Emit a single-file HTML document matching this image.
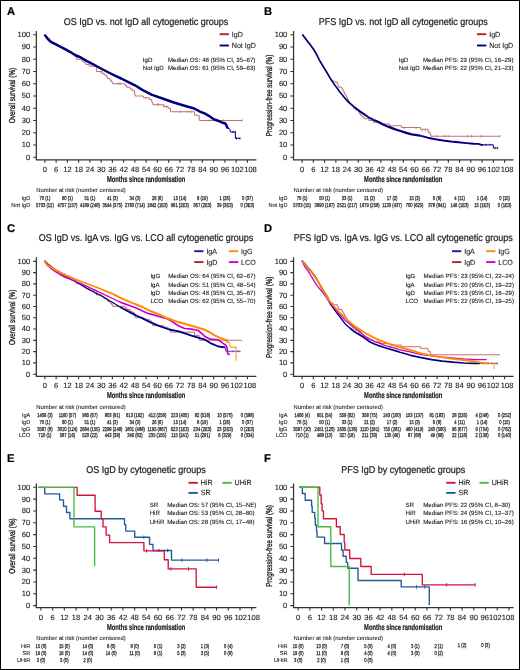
<!DOCTYPE html><html><head><meta charset="utf-8"><style>html,body{margin:0;padding:0;background:#fff;}body{width:520px;height:670px;overflow:hidden;position:relative;} .bd{position:absolute;left:0;top:0;width:520px;height:670px;box-sizing:border-box;border:1.3px solid #000;pointer-events:none}</style></head><body><svg width="520" height="670" viewBox="0 0 520 670" style="display:block;will-change:transform;text-rendering:geometricPrecision;font-family:'Liberation Sans',sans-serif">
<rect x="0" y="0" width="520" height="670" fill="#fff"/>
<path d="M36.35,30.9 V160.4 M35.75,159.8 H256.35" stroke="#333" stroke-width="1.25" fill="none"/>
<path d="M33.15,34.75 H36.35 M33.15,47 H36.35 M33.15,59.25 H36.35 M33.15,71.5 H36.35 M33.15,83.75 H36.35 M33.15,96 H36.35 M33.15,108.25 H36.35 M33.15,120.5 H36.35 M33.15,132.75 H36.35 M33.15,145 H36.35 M33.15,157.25 H36.35 M44.9,159.8 V162.7 M56.15,159.8 V162.7 M67.4,159.8 V162.7 M78.65,159.8 V162.7 M89.9,159.8 V162.7 M101.15,159.8 V162.7 M112.4,159.8 V162.7 M123.65,159.8 V162.7 M134.9,159.8 V162.7 M146.15,159.8 V162.7 M157.4,159.8 V162.7 M168.65,159.8 V162.7 M179.9,159.8 V162.7 M191.15,159.8 V162.7 M202.4,159.8 V162.7 M213.65,159.8 V162.7 M224.9,159.8 V162.7 M236.15,159.8 V162.7 M247.4,159.8 V162.7 " stroke="#333" stroke-width="1.1" fill="none"/>
<text x="30.15" y="37.15" font-size="7.6" text-anchor="end" fill="#1a1a1a" stroke="#1a1a1a" stroke-width="0.12">100</text>
<text x="30.15" y="49.4" font-size="7.6" text-anchor="end" fill="#1a1a1a" stroke="#1a1a1a" stroke-width="0.12">90</text>
<text x="30.15" y="61.65" font-size="7.6" text-anchor="end" fill="#1a1a1a" stroke="#1a1a1a" stroke-width="0.12">80</text>
<text x="30.15" y="73.9" font-size="7.6" text-anchor="end" fill="#1a1a1a" stroke="#1a1a1a" stroke-width="0.12">70</text>
<text x="30.15" y="86.15" font-size="7.6" text-anchor="end" fill="#1a1a1a" stroke="#1a1a1a" stroke-width="0.12">60</text>
<text x="30.15" y="98.4" font-size="7.6" text-anchor="end" fill="#1a1a1a" stroke="#1a1a1a" stroke-width="0.12">50</text>
<text x="30.15" y="110.65" font-size="7.6" text-anchor="end" fill="#1a1a1a" stroke="#1a1a1a" stroke-width="0.12">40</text>
<text x="30.15" y="122.9" font-size="7.6" text-anchor="end" fill="#1a1a1a" stroke="#1a1a1a" stroke-width="0.12">30</text>
<text x="30.15" y="135.15" font-size="7.6" text-anchor="end" fill="#1a1a1a" stroke="#1a1a1a" stroke-width="0.12">20</text>
<text x="30.15" y="147.4" font-size="7.6" text-anchor="end" fill="#1a1a1a" stroke="#1a1a1a" stroke-width="0.12">10</text>
<text x="30.15" y="159.65" font-size="7.6" text-anchor="end" fill="#1a1a1a" stroke="#1a1a1a" stroke-width="0.12">0</text>
<text x="44.9" y="171.8" font-size="7.6" text-anchor="middle" fill="#1a1a1a" stroke="#1a1a1a" stroke-width="0.12">0</text>
<text x="56.15" y="171.8" font-size="7.6" text-anchor="middle" fill="#1a1a1a" stroke="#1a1a1a" stroke-width="0.12">6</text>
<text x="67.4" y="171.8" font-size="7.6" text-anchor="middle" fill="#1a1a1a" stroke="#1a1a1a" stroke-width="0.12">12</text>
<text x="78.65" y="171.8" font-size="7.6" text-anchor="middle" fill="#1a1a1a" stroke="#1a1a1a" stroke-width="0.12">18</text>
<text x="89.9" y="171.8" font-size="7.6" text-anchor="middle" fill="#1a1a1a" stroke="#1a1a1a" stroke-width="0.12">24</text>
<text x="101.15" y="171.8" font-size="7.6" text-anchor="middle" fill="#1a1a1a" stroke="#1a1a1a" stroke-width="0.12">30</text>
<text x="112.4" y="171.8" font-size="7.6" text-anchor="middle" fill="#1a1a1a" stroke="#1a1a1a" stroke-width="0.12">36</text>
<text x="123.65" y="171.8" font-size="7.6" text-anchor="middle" fill="#1a1a1a" stroke="#1a1a1a" stroke-width="0.12">42</text>
<text x="134.9" y="171.8" font-size="7.6" text-anchor="middle" fill="#1a1a1a" stroke="#1a1a1a" stroke-width="0.12">48</text>
<text x="146.15" y="171.8" font-size="7.6" text-anchor="middle" fill="#1a1a1a" stroke="#1a1a1a" stroke-width="0.12">54</text>
<text x="157.4" y="171.8" font-size="7.6" text-anchor="middle" fill="#1a1a1a" stroke="#1a1a1a" stroke-width="0.12">60</text>
<text x="168.65" y="171.8" font-size="7.6" text-anchor="middle" fill="#1a1a1a" stroke="#1a1a1a" stroke-width="0.12">66</text>
<text x="179.9" y="171.8" font-size="7.6" text-anchor="middle" fill="#1a1a1a" stroke="#1a1a1a" stroke-width="0.12">72</text>
<text x="191.15" y="171.8" font-size="7.6" text-anchor="middle" fill="#1a1a1a" stroke="#1a1a1a" stroke-width="0.12">78</text>
<text x="202.4" y="171.8" font-size="7.6" text-anchor="middle" fill="#1a1a1a" stroke="#1a1a1a" stroke-width="0.12">84</text>
<text x="213.65" y="171.8" font-size="7.6" text-anchor="middle" fill="#1a1a1a" stroke="#1a1a1a" stroke-width="0.12">90</text>
<text x="224.9" y="171.8" font-size="7.6" text-anchor="middle" fill="#1a1a1a" stroke="#1a1a1a" stroke-width="0.12">96</text>
<text x="237.3" y="171.8" font-size="7.6" text-anchor="middle" fill="#1a1a1a" stroke="#1a1a1a" stroke-width="0.12">102</text>
<text x="250.5" y="171.8" font-size="7.6" text-anchor="middle" fill="#1a1a1a" stroke="#1a1a1a" stroke-width="0.12">108</text>
<text x="6.9" y="14.8" font-size="11.2" font-weight="bold" fill="#000" stroke="#000" stroke-width="0.2">A</text>
<text transform="translate(146.05,25) scale(1,1.1)" font-size="9" text-anchor="middle" fill="#1a1a1a" stroke="#1a1a1a" stroke-width="0.2">OS IgD vs. not IgD all cytogenetic groups</text>
<text transform="translate(15.25,95.5) rotate(-90)" x="0" y="0" font-size="8.6" text-anchor="middle" textLength="55.4" lengthAdjust="spacingAndGlyphs" fill="#1a1a1a" stroke="#1a1a1a" stroke-width="0.3">Overall survival (%)</text>
<text x="106.9" y="181.7" font-size="8.4" font-weight="bold" textLength="78.3" lengthAdjust="spacingAndGlyphs" fill="#1a1a1a" stroke="#1a1a1a" stroke-width="0.22">Months since randomisation</text>
<text x="36.25" y="192" font-size="5.9" textLength="89.5" lengthAdjust="spacingAndGlyphs" fill="#1a1a1a" stroke="#1a1a1a" stroke-width="0.08">Number at risk (number censored)</text>
<path d="M219.6,34.2 H228.9" stroke="#b22222" stroke-width="1.9"/>
<text x="231.8" y="36.8" font-size="7.1" fill="#1a1a1a" stroke="#1a1a1a" stroke-width="0.1" transform="translate(0,-1.84) scale(1,1.05)">IgD</text>
<path d="M219.6,45.5 H228.9" stroke="#000080" stroke-width="1.9"/>
<text x="231.8" y="48.1" font-size="7.1" fill="#1a1a1a" stroke="#1a1a1a" stroke-width="0.1" transform="translate(0,-2.41) scale(1,1.05)">Not IgD</text>
<text x="142.8" y="62.3" font-size="6.15" fill="#1a1a1a" stroke="#1a1a1a" stroke-width="0.1">IgD</text>
<text x="168" y="62.3" font-size="6.15" fill="#1a1a1a" stroke="#1a1a1a" stroke-width="0.1">Median OS: 48 (95% CI, 35–67)</text>
<text x="142.8" y="70.4" font-size="6.15" fill="#1a1a1a" stroke="#1a1a1a" stroke-width="0.1">Not IgD</text>
<text x="168" y="70.4" font-size="6.15" fill="#1a1a1a" stroke="#1a1a1a" stroke-width="0.1">Median OS: 61 (95% CI, 59–63)</text>
<path d="M44.6,34.75 L46.1,34.75 L46.1,36.5 L47.6,36.5 L47.6,38.25 L49.35,38.25 L49.35,40 L51.1,40 L51.1,41.75 L53.35,41.75 L53.35,43.5 L56.1,43.5 L56.1,45.25 L59.1,45.25 L59.1,47 L62.35,47 L62.35,48.75 L65.6,48.75 L65.6,50.5 L68.85,50.5 L68.85,52.25 L72.1,52.25 L72.1,54 L74.85,54 L74.85,55.75 L76.35,55.75 L76.35,59.25 L81.85,59.25 L81.85,61 L84.1,61 L84.1,62.75 L85.85,62.75 L85.85,64.5 L89.35,64.5 L89.35,66.25 L96.35,66.25 L96.35,71.5 L102.1,71.5 L102.1,73.25 L104.1,73.25 L104.1,75 L106.6,75 L106.6,76.75 L107.6,76.75 L107.6,78.5 L109.85,78.5 L109.85,80.25 L111.6,80.25 L111.6,82 L112.6,82 L112.6,83.75 L125.1,83.75 L125.1,85.5 L126.6,85.5 L126.6,87.25 L130.1,87.25 L130.1,89 L132.35,89 L132.35,90.75 L134.6,90.75 L134.6,94.25 L135.1,94.25 L135.1,96 L143.35,96 L143.35,97.75 L149.35,97.75 L149.35,99.5 L151.6,99.5 L151.6,101.25 L152.1,101.25 L152.1,103 L152.85,103 L152.85,104.75 L163.85,104.75 L163.85,106.5 L168.1,106.5 L168.1,108.25 L170.35,108.25 L170.35,110 L170.6,110 L170.6,111.75 L194.6,111.75 L194.6,115.25 L199.1,115.25 L199.1,118.75 L199.35,118.75 L199.35,120.5 L242.2,120.5" fill="none" stroke="#c06060" stroke-width="0.9" stroke-linejoin="round"/>
<path d="M145.8,96.9 V99.3 M157.3,103.2 V105.6 M158.5,103.2 V105.6 M163.7,105 V107.4 M166.5,105.5 V107.9 M180.4,110.5 V112.9 M187.3,110.5 V112.9 M190.8,110.5 V112.9 M209.3,119.2 V121.6 M223.6,119.2 V121.6 M242.2,119.2 V121.6 M118,82.3 V84.7 M120,82.3 V84.7 M101,71.3 V73.7 " stroke="#c06060" stroke-width="0.7" fill="none"/>
<path d="M44.6,34.6 L46.2,36.9 L47.7,38.8 L50,41.2 L52.3,42.7 L55.4,44.2 L59.2,46.2 L63.1,48.1 L66.9,50.2 L70.8,52.3 L75,55 L80.8,57.5 L86.5,60.8 L92.3,63.8 L98.1,67 L103.8,70 L109.6,73 L115.4,75.9 L121.2,78.5 L126.9,81.3 L135,85.3 L142.3,89.9 L151.5,94.6 L163.1,98.7 L174.6,102.7 L186.2,106.2 L194.2,108.5 L200,111.6 L205,113.7 L209.3,116.1 L213.7,119.3 L218,120.7 L222.3,122.7 L224.9,123.3 L226.2,124.9 L227.1,127.1 L227.9,128.5" fill="none" stroke="#000080" stroke-width="2.5" stroke-linejoin="round"/>
<path d="M227.6,128.5 L229.2,128.5 L230.1,130.1 L230.5,132 L235.3,132 L235.4,138.3 L240,138.3" fill="none" stroke="#000080" stroke-width="1.0" stroke-linejoin="round"/>
<path d="M233,130.8 V133.2 M235.3,130.8 V133.2 M236.5,137.1 V139.5 M240,137.1 V139.5 " stroke="#000080" stroke-width="0.8" fill="none"/>
<text x="30.25" y="200.4" font-size="5.6" text-anchor="end" fill="#1a1a1a" stroke="#1a1a1a" stroke-width="0.08">IgD</text>
<text transform="translate(44.9,200.4) scale(0.74,1)" font-size="5.6" text-anchor="middle" fill="#1a1a1a" stroke="#1a1a1a" stroke-width="0.25">70 (1)</text>
<text transform="translate(67.4,200.4) scale(0.74,1)" font-size="5.6" text-anchor="middle" fill="#1a1a1a" stroke="#1a1a1a" stroke-width="0.25">60 (1)</text>
<text transform="translate(89.9,200.4) scale(0.74,1)" font-size="5.6" text-anchor="middle" fill="#1a1a1a" stroke="#1a1a1a" stroke-width="0.25">51 (1)</text>
<text transform="translate(112.4,200.4) scale(0.74,1)" font-size="5.6" text-anchor="middle" fill="#1a1a1a" stroke="#1a1a1a" stroke-width="0.25">41 (3)</text>
<text transform="translate(134.9,200.4) scale(0.74,1)" font-size="5.6" text-anchor="middle" fill="#1a1a1a" stroke="#1a1a1a" stroke-width="0.25">34 (3)</text>
<text transform="translate(157.4,200.4) scale(0.74,1)" font-size="5.6" text-anchor="middle" fill="#1a1a1a" stroke="#1a1a1a" stroke-width="0.25">26 (6)</text>
<text transform="translate(179.9,200.4) scale(0.74,1)" font-size="5.6" text-anchor="middle" fill="#1a1a1a" stroke="#1a1a1a" stroke-width="0.25">15 (14)</text>
<text transform="translate(202.4,200.4) scale(0.74,1)" font-size="5.6" text-anchor="middle" fill="#1a1a1a" stroke="#1a1a1a" stroke-width="0.25">8 (19)</text>
<text transform="translate(224.9,200.4) scale(0.74,1)" font-size="5.6" text-anchor="middle" fill="#1a1a1a" stroke="#1a1a1a" stroke-width="0.25">1 (26)</text>
<text transform="translate(247.4,200.4) scale(0.74,1)" font-size="5.6" text-anchor="middle" fill="#1a1a1a" stroke="#1a1a1a" stroke-width="0.25">0 (37)</text>
<text x="30.25" y="207.2" font-size="5.6" text-anchor="end" fill="#1a1a1a" stroke="#1a1a1a" stroke-width="0.08">Not IgD</text>
<text transform="translate(44.9,207.2) scale(0.74,1)" font-size="5.6" text-anchor="middle" fill="#1a1a1a" stroke="#1a1a1a" stroke-width="0.25">5703 (12)</text>
<text transform="translate(67.4,207.2) scale(0.74,1)" font-size="5.6" text-anchor="middle" fill="#1a1a1a" stroke="#1a1a1a" stroke-width="0.25">4757 (157)</text>
<text transform="translate(89.9,207.2) scale(0.74,1)" font-size="5.6" text-anchor="middle" fill="#1a1a1a" stroke="#1a1a1a" stroke-width="0.25">4189 (248)</text>
<text transform="translate(112.4,207.2) scale(0.74,1)" font-size="5.6" text-anchor="middle" fill="#1a1a1a" stroke="#1a1a1a" stroke-width="0.25">3544 (375)</text>
<text transform="translate(134.9,207.2) scale(0.74,1)" font-size="5.6" text-anchor="middle" fill="#1a1a1a" stroke="#1a1a1a" stroke-width="0.25">2760 (714)</text>
<text transform="translate(157.4,207.2) scale(0.74,1)" font-size="5.6" text-anchor="middle" fill="#1a1a1a" stroke="#1a1a1a" stroke-width="0.25">1842 (1E3)</text>
<text transform="translate(179.9,207.2) scale(0.74,1)" font-size="5.6" text-anchor="middle" fill="#1a1a1a" stroke="#1a1a1a" stroke-width="0.25">961 (2E3)</text>
<text transform="translate(202.4,207.2) scale(0.74,1)" font-size="5.6" text-anchor="middle" fill="#1a1a1a" stroke="#1a1a1a" stroke-width="0.25">367 (2E3)</text>
<text transform="translate(224.9,207.2) scale(0.74,1)" font-size="5.6" text-anchor="middle" fill="#1a1a1a" stroke="#1a1a1a" stroke-width="0.25">39 (3E3)</text>
<text transform="translate(247.4,207.2) scale(0.74,1)" font-size="5.6" text-anchor="middle" fill="#1a1a1a" stroke="#1a1a1a" stroke-width="0.25">0 (3E3)</text>
<path d="M293.55,30.9 V160.4 M292.95,159.8 H513.55" stroke="#333" stroke-width="1.25" fill="none"/>
<path d="M290.35,34.75 H293.55 M290.35,47 H293.55 M290.35,59.25 H293.55 M290.35,71.5 H293.55 M290.35,83.75 H293.55 M290.35,96 H293.55 M290.35,108.25 H293.55 M290.35,120.5 H293.55 M290.35,132.75 H293.55 M290.35,145 H293.55 M290.35,157.25 H293.55 M302.1,159.8 V162.7 M313.35,159.8 V162.7 M324.6,159.8 V162.7 M335.85,159.8 V162.7 M347.1,159.8 V162.7 M358.35,159.8 V162.7 M369.6,159.8 V162.7 M380.85,159.8 V162.7 M392.1,159.8 V162.7 M403.35,159.8 V162.7 M414.6,159.8 V162.7 M425.85,159.8 V162.7 M437.1,159.8 V162.7 M448.35,159.8 V162.7 M459.6,159.8 V162.7 M470.85,159.8 V162.7 M482.1,159.8 V162.7 M493.35,159.8 V162.7 M504.6,159.8 V162.7 " stroke="#333" stroke-width="1.1" fill="none"/>
<text x="287.35" y="37.15" font-size="7.6" text-anchor="end" fill="#1a1a1a" stroke="#1a1a1a" stroke-width="0.12">100</text>
<text x="287.35" y="49.4" font-size="7.6" text-anchor="end" fill="#1a1a1a" stroke="#1a1a1a" stroke-width="0.12">90</text>
<text x="287.35" y="61.65" font-size="7.6" text-anchor="end" fill="#1a1a1a" stroke="#1a1a1a" stroke-width="0.12">80</text>
<text x="287.35" y="73.9" font-size="7.6" text-anchor="end" fill="#1a1a1a" stroke="#1a1a1a" stroke-width="0.12">70</text>
<text x="287.35" y="86.15" font-size="7.6" text-anchor="end" fill="#1a1a1a" stroke="#1a1a1a" stroke-width="0.12">60</text>
<text x="287.35" y="98.4" font-size="7.6" text-anchor="end" fill="#1a1a1a" stroke="#1a1a1a" stroke-width="0.12">50</text>
<text x="287.35" y="110.65" font-size="7.6" text-anchor="end" fill="#1a1a1a" stroke="#1a1a1a" stroke-width="0.12">40</text>
<text x="287.35" y="122.9" font-size="7.6" text-anchor="end" fill="#1a1a1a" stroke="#1a1a1a" stroke-width="0.12">30</text>
<text x="287.35" y="135.15" font-size="7.6" text-anchor="end" fill="#1a1a1a" stroke="#1a1a1a" stroke-width="0.12">20</text>
<text x="287.35" y="147.4" font-size="7.6" text-anchor="end" fill="#1a1a1a" stroke="#1a1a1a" stroke-width="0.12">10</text>
<text x="287.35" y="159.65" font-size="7.6" text-anchor="end" fill="#1a1a1a" stroke="#1a1a1a" stroke-width="0.12">0</text>
<text x="302.1" y="171.8" font-size="7.6" text-anchor="middle" fill="#1a1a1a" stroke="#1a1a1a" stroke-width="0.12">0</text>
<text x="313.35" y="171.8" font-size="7.6" text-anchor="middle" fill="#1a1a1a" stroke="#1a1a1a" stroke-width="0.12">6</text>
<text x="324.6" y="171.8" font-size="7.6" text-anchor="middle" fill="#1a1a1a" stroke="#1a1a1a" stroke-width="0.12">12</text>
<text x="335.85" y="171.8" font-size="7.6" text-anchor="middle" fill="#1a1a1a" stroke="#1a1a1a" stroke-width="0.12">18</text>
<text x="347.1" y="171.8" font-size="7.6" text-anchor="middle" fill="#1a1a1a" stroke="#1a1a1a" stroke-width="0.12">24</text>
<text x="358.35" y="171.8" font-size="7.6" text-anchor="middle" fill="#1a1a1a" stroke="#1a1a1a" stroke-width="0.12">30</text>
<text x="369.6" y="171.8" font-size="7.6" text-anchor="middle" fill="#1a1a1a" stroke="#1a1a1a" stroke-width="0.12">36</text>
<text x="380.85" y="171.8" font-size="7.6" text-anchor="middle" fill="#1a1a1a" stroke="#1a1a1a" stroke-width="0.12">42</text>
<text x="392.1" y="171.8" font-size="7.6" text-anchor="middle" fill="#1a1a1a" stroke="#1a1a1a" stroke-width="0.12">48</text>
<text x="403.35" y="171.8" font-size="7.6" text-anchor="middle" fill="#1a1a1a" stroke="#1a1a1a" stroke-width="0.12">54</text>
<text x="414.6" y="171.8" font-size="7.6" text-anchor="middle" fill="#1a1a1a" stroke="#1a1a1a" stroke-width="0.12">60</text>
<text x="425.85" y="171.8" font-size="7.6" text-anchor="middle" fill="#1a1a1a" stroke="#1a1a1a" stroke-width="0.12">66</text>
<text x="437.1" y="171.8" font-size="7.6" text-anchor="middle" fill="#1a1a1a" stroke="#1a1a1a" stroke-width="0.12">72</text>
<text x="448.35" y="171.8" font-size="7.6" text-anchor="middle" fill="#1a1a1a" stroke="#1a1a1a" stroke-width="0.12">78</text>
<text x="459.6" y="171.8" font-size="7.6" text-anchor="middle" fill="#1a1a1a" stroke="#1a1a1a" stroke-width="0.12">84</text>
<text x="470.85" y="171.8" font-size="7.6" text-anchor="middle" fill="#1a1a1a" stroke="#1a1a1a" stroke-width="0.12">90</text>
<text x="482.1" y="171.8" font-size="7.6" text-anchor="middle" fill="#1a1a1a" stroke="#1a1a1a" stroke-width="0.12">96</text>
<text x="493.6" y="171.8" font-size="7.6" text-anchor="middle" fill="#1a1a1a" stroke="#1a1a1a" stroke-width="0.12">102</text>
<text x="507.1" y="171.8" font-size="7.6" text-anchor="middle" fill="#1a1a1a" stroke="#1a1a1a" stroke-width="0.12">108</text>
<text x="264.1" y="14.8" font-size="11.2" font-weight="bold" fill="#000" stroke="#000" stroke-width="0.2">B</text>
<text transform="translate(403.25,25) scale(1,1.1)" font-size="9" text-anchor="middle" fill="#1a1a1a" stroke="#1a1a1a" stroke-width="0.2">PFS IgD vs. not IgD all cytogenetic groups</text>
<text transform="translate(272.45,95.5) rotate(-90)" x="0" y="0" font-size="8.6" text-anchor="middle" textLength="81.5" lengthAdjust="spacingAndGlyphs" fill="#1a1a1a" stroke="#1a1a1a" stroke-width="0.3">Progression-free survival (%)</text>
<text x="364.1" y="181.7" font-size="8.4" font-weight="bold" textLength="78.3" lengthAdjust="spacingAndGlyphs" fill="#1a1a1a" stroke="#1a1a1a" stroke-width="0.22">Months since randomisation</text>
<text x="293.45" y="192" font-size="5.9" textLength="89.5" lengthAdjust="spacingAndGlyphs" fill="#1a1a1a" stroke="#1a1a1a" stroke-width="0.08">Number at risk (number censored)</text>
<path d="M477,34.2 H486.3" stroke="#b22222" stroke-width="1.9"/>
<text x="489.2" y="36.8" font-size="7.1" fill="#1a1a1a" stroke="#1a1a1a" stroke-width="0.1" transform="translate(0,-1.84) scale(1,1.05)">IgD</text>
<path d="M477,45.5 H486.3" stroke="#000080" stroke-width="1.9"/>
<text x="489.2" y="48.1" font-size="7.1" fill="#1a1a1a" stroke="#1a1a1a" stroke-width="0.1" transform="translate(0,-2.41) scale(1,1.05)">Not IgD</text>
<text x="398.75" y="62.3" font-size="6.15" fill="#1a1a1a" stroke="#1a1a1a" stroke-width="0.1">IgD</text>
<text x="423" y="62.3" font-size="6.15" fill="#1a1a1a" stroke="#1a1a1a" stroke-width="0.1">Median PFS: 23 (95% CI, 16–29)</text>
<text x="398.75" y="70.4" font-size="6.15" fill="#1a1a1a" stroke="#1a1a1a" stroke-width="0.1">Not IgD</text>
<text x="423" y="70.4" font-size="6.15" fill="#1a1a1a" stroke="#1a1a1a" stroke-width="0.1">Median PFS: 22 (95% CI, 21–23)</text>
<path d="M302.2,34.75 L303.45,34.75 L303.45,36.5 L304.95,36.5 L304.95,38.25 L306.2,38.25 L306.2,40 L307.7,40 L307.7,41.75 L308.95,41.75 L308.95,43.5 L310.45,43.5 L310.45,45.25 L311.7,45.25 L311.7,47 L312.95,47 L312.95,48.75 L314.2,48.75 L314.2,50.5 L315.2,50.5 L315.2,52.25 L316.2,52.25 L316.2,54 L317.2,54 L317.2,55.75 L317.95,55.75 L317.95,57.5 L318.95,57.5 L318.95,59.25 L319.7,59.25 L319.7,61 L320.95,61 L320.95,62.75 L321.95,62.75 L321.95,64.5 L322.95,64.5 L322.95,66.25 L323.95,66.25 L323.95,68 L324.95,68 L324.95,69.75 L326.2,69.75 L326.2,71.5 L327.2,71.5 L327.2,73.25 L328.2,73.25 L328.2,75 L328.95,75 L328.95,76.75 L329.7,76.75 L329.7,78.5 L330.95,78.5 L330.95,80.25 L333.2,80.25 L333.2,82 L337.2,82 L337.2,83.75 L337.95,83.75 L337.95,85.5 L338.7,85.5 L338.7,87.25 L341.95,87.25 L341.95,89 L342.95,89 L342.95,90.75 L343.95,90.75 L343.95,92.5 L344.7,92.5 L344.7,94.25 L345.7,94.25 L345.7,96 L346.7,96 L346.7,97.75 L347.45,97.75 L347.45,99.5 L348.45,99.5 L348.45,101.25 L349.7,101.25 L349.7,103 L350.95,103 L350.95,104.75 L352.2,104.75 L352.2,106.5 L353.45,106.5 L353.45,108.25 L355.45,108.25 L355.45,110 L358.45,110 L358.45,111.75 L359.2,111.75 L359.2,113.5 L360.45,113.5 L360.45,115.25 L362.2,115.25 L362.2,117 L364.2,117 L364.2,118.75 L368.95,118.75 L368.95,120.5 L373.45,120.5 L373.45,122.25 L380.7,122.25 L380.7,124 L389.7,124 L389.7,125.75 L401.45,125.75 L401.45,127.5 L420.45,127.5 L420.45,129.25 L427.95,129.25 L427.95,131 L428.45,131 L428.45,132.75 L430.45,132.75 L430.45,134.5 L430.95,134.5 L430.95,136.25 L500,136.25" fill="none" stroke="#c06060" stroke-width="0.9" stroke-linejoin="round"/>
<path d="M404,126.7 V129.1 M416,126.7 V129.1 M422.3,129.3 V131.7 M425.4,129.3 V131.7 M436.9,135 V137.4 M444.6,135 V137.4 M448.2,135 V137.4 M467.7,135 V137.4 M471.5,135 V137.4 M481.2,135 V137.4 M500,135 V137.4 " stroke="#c06060" stroke-width="0.7" fill="none"/>
<path d="M302.3,34.6 L305.7,39.1 L309.5,43.9 L313.4,49.2 L316.3,54 L319.2,59.8 L322,64.6 L324.9,69.4 L327.8,74.2 L330.7,79 L333.6,83.4 L337.4,88.5 L339.6,91.8 L344.4,97.6 L349.2,102.9 L354,106.7" fill="none" stroke="#000080" stroke-width="1.6" stroke-linejoin="round"/>
<path d="M354,106.7 L358.8,110.6 L363.7,113.9 L368.5,117.3 L373.3,119.7" fill="none" stroke="#000080" stroke-width="1.9" stroke-linejoin="round"/>
<path d="M373.3,119.7 L377.3,121.5 L383.1,124.4 L388.8,126.9 L394.6,129.1 L400.4,131 L406.2,132.9 L411.9,134.4 L420,135.6" fill="none" stroke="#000080" stroke-width="2.2" stroke-linejoin="round"/>
<path d="M420,135.6 L427.7,137.7 L435.4,139.2 L443.1,140.5 L450.8,141.5 L458.5,142.3 L466.2,143.1 L473.8,143.8 L478.5,143.9 L481.5,144.9 L483.6,144.9" fill="none" stroke="#000080" stroke-width="1.9" stroke-linejoin="round"/>
<path d="M483.6,144.8 L493.3,144.8 L493.3,148 L497.7,148" fill="none" stroke="#000080" stroke-width="1.0" stroke-linejoin="round"/>
<path d="M486,143.6 V146 M490,143.6 V146 M495,146.8 V149.2 M497.7,146.8 V149.2 " stroke="#000080" stroke-width="0.7" fill="none"/>
<text x="287.45" y="200.4" font-size="5.6" text-anchor="end" fill="#1a1a1a" stroke="#1a1a1a" stroke-width="0.08">IgD</text>
<text transform="translate(302.1,200.4) scale(0.74,1)" font-size="5.6" text-anchor="middle" fill="#1a1a1a" stroke="#1a1a1a" stroke-width="0.25">70 (1)</text>
<text transform="translate(324.6,200.4) scale(0.74,1)" font-size="5.6" text-anchor="middle" fill="#1a1a1a" stroke="#1a1a1a" stroke-width="0.25">50 (1)</text>
<text transform="translate(347.1,200.4) scale(0.74,1)" font-size="5.6" text-anchor="middle" fill="#1a1a1a" stroke="#1a1a1a" stroke-width="0.25">33 (1)</text>
<text transform="translate(369.6,200.4) scale(0.74,1)" font-size="5.6" text-anchor="middle" fill="#1a1a1a" stroke="#1a1a1a" stroke-width="0.25">21 (2)</text>
<text transform="translate(392.1,200.4) scale(0.74,1)" font-size="5.6" text-anchor="middle" fill="#1a1a1a" stroke="#1a1a1a" stroke-width="0.25">17 (2)</text>
<text transform="translate(414.6,200.4) scale(0.74,1)" font-size="5.6" text-anchor="middle" fill="#1a1a1a" stroke="#1a1a1a" stroke-width="0.25">15 (3)</text>
<text transform="translate(437.1,200.4) scale(0.74,1)" font-size="5.6" text-anchor="middle" fill="#1a1a1a" stroke="#1a1a1a" stroke-width="0.25">6 (8)</text>
<text transform="translate(459.6,200.4) scale(0.74,1)" font-size="5.6" text-anchor="middle" fill="#1a1a1a" stroke="#1a1a1a" stroke-width="0.25">4 (11)</text>
<text transform="translate(482.1,200.4) scale(0.74,1)" font-size="5.6" text-anchor="middle" fill="#1a1a1a" stroke="#1a1a1a" stroke-width="0.25">1 (14)</text>
<text transform="translate(504.6,200.4) scale(0.74,1)" font-size="5.6" text-anchor="middle" fill="#1a1a1a" stroke="#1a1a1a" stroke-width="0.25">0 (15)</text>
<text x="287.45" y="207.2" font-size="5.6" text-anchor="end" fill="#1a1a1a" stroke="#1a1a1a" stroke-width="0.08">Not IgD</text>
<text transform="translate(302.1,207.2) scale(0.74,1)" font-size="5.6" text-anchor="middle" fill="#1a1a1a" stroke="#1a1a1a" stroke-width="0.25">5703 (15)</text>
<text transform="translate(324.6,207.2) scale(0.74,1)" font-size="5.6" text-anchor="middle" fill="#1a1a1a" stroke="#1a1a1a" stroke-width="0.25">3890 (187)</text>
<text transform="translate(347.1,207.2) scale(0.74,1)" font-size="5.6" text-anchor="middle" fill="#1a1a1a" stroke="#1a1a1a" stroke-width="0.25">2521 (217)</text>
<text transform="translate(369.6,207.2) scale(0.74,1)" font-size="5.6" text-anchor="middle" fill="#1a1a1a" stroke="#1a1a1a" stroke-width="0.25">1679 (258)</text>
<text transform="translate(392.1,207.2) scale(0.74,1)" font-size="5.6" text-anchor="middle" fill="#1a1a1a" stroke="#1a1a1a" stroke-width="0.25">1133 (437)</text>
<text transform="translate(414.6,207.2) scale(0.74,1)" font-size="5.6" text-anchor="middle" fill="#1a1a1a" stroke="#1a1a1a" stroke-width="0.25">700 (625)</text>
<text transform="translate(437.1,207.2) scale(0.74,1)" font-size="5.6" text-anchor="middle" fill="#1a1a1a" stroke="#1a1a1a" stroke-width="0.25">378 (841)</text>
<text transform="translate(459.6,207.2) scale(0.74,1)" font-size="5.6" text-anchor="middle" fill="#1a1a1a" stroke="#1a1a1a" stroke-width="0.25">146 (1E3)</text>
<text transform="translate(482.1,207.2) scale(0.74,1)" font-size="5.6" text-anchor="middle" fill="#1a1a1a" stroke="#1a1a1a" stroke-width="0.25">15 (1E3)</text>
<text transform="translate(504.6,207.2) scale(0.74,1)" font-size="5.6" text-anchor="middle" fill="#1a1a1a" stroke="#1a1a1a" stroke-width="0.25">0 (1E3)</text>
<path d="M36.35,257.3 V376.9 M35.75,376.3 H256.35" stroke="#333" stroke-width="1.25" fill="none"/>
<path d="M33.15,261.35 H36.35 M33.15,272.63 H36.35 M33.15,283.92 H36.35 M33.15,295.21 H36.35 M33.15,306.49 H36.35 M33.15,317.77 H36.35 M33.15,329.06 H36.35 M33.15,340.35 H36.35 M33.15,351.63 H36.35 M33.15,362.91 H36.35 M33.15,374.2 H36.35 M44.9,376.3 V379.2 M56.15,376.3 V379.2 M67.4,376.3 V379.2 M78.65,376.3 V379.2 M89.9,376.3 V379.2 M101.15,376.3 V379.2 M112.4,376.3 V379.2 M123.65,376.3 V379.2 M134.9,376.3 V379.2 M146.15,376.3 V379.2 M157.4,376.3 V379.2 M168.65,376.3 V379.2 M179.9,376.3 V379.2 M191.15,376.3 V379.2 M202.4,376.3 V379.2 M213.65,376.3 V379.2 M224.9,376.3 V379.2 M236.15,376.3 V379.2 M247.4,376.3 V379.2 " stroke="#333" stroke-width="1.1" fill="none"/>
<text x="30.15" y="263.75" font-size="7.6" text-anchor="end" fill="#1a1a1a" stroke="#1a1a1a" stroke-width="0.12">100</text>
<text x="30.15" y="275.03" font-size="7.6" text-anchor="end" fill="#1a1a1a" stroke="#1a1a1a" stroke-width="0.12">90</text>
<text x="30.15" y="286.32" font-size="7.6" text-anchor="end" fill="#1a1a1a" stroke="#1a1a1a" stroke-width="0.12">80</text>
<text x="30.15" y="297.61" font-size="7.6" text-anchor="end" fill="#1a1a1a" stroke="#1a1a1a" stroke-width="0.12">70</text>
<text x="30.15" y="308.89" font-size="7.6" text-anchor="end" fill="#1a1a1a" stroke="#1a1a1a" stroke-width="0.12">60</text>
<text x="30.15" y="320.17" font-size="7.6" text-anchor="end" fill="#1a1a1a" stroke="#1a1a1a" stroke-width="0.12">50</text>
<text x="30.15" y="331.46" font-size="7.6" text-anchor="end" fill="#1a1a1a" stroke="#1a1a1a" stroke-width="0.12">40</text>
<text x="30.15" y="342.75" font-size="7.6" text-anchor="end" fill="#1a1a1a" stroke="#1a1a1a" stroke-width="0.12">30</text>
<text x="30.15" y="354.03" font-size="7.6" text-anchor="end" fill="#1a1a1a" stroke="#1a1a1a" stroke-width="0.12">20</text>
<text x="30.15" y="365.31" font-size="7.6" text-anchor="end" fill="#1a1a1a" stroke="#1a1a1a" stroke-width="0.12">10</text>
<text x="30.15" y="376.6" font-size="7.6" text-anchor="end" fill="#1a1a1a" stroke="#1a1a1a" stroke-width="0.12">0</text>
<text x="44.9" y="388.3" font-size="7.6" text-anchor="middle" fill="#1a1a1a" stroke="#1a1a1a" stroke-width="0.12">0</text>
<text x="56.15" y="388.3" font-size="7.6" text-anchor="middle" fill="#1a1a1a" stroke="#1a1a1a" stroke-width="0.12">6</text>
<text x="67.4" y="388.3" font-size="7.6" text-anchor="middle" fill="#1a1a1a" stroke="#1a1a1a" stroke-width="0.12">12</text>
<text x="78.65" y="388.3" font-size="7.6" text-anchor="middle" fill="#1a1a1a" stroke="#1a1a1a" stroke-width="0.12">18</text>
<text x="89.9" y="388.3" font-size="7.6" text-anchor="middle" fill="#1a1a1a" stroke="#1a1a1a" stroke-width="0.12">24</text>
<text x="101.15" y="388.3" font-size="7.6" text-anchor="middle" fill="#1a1a1a" stroke="#1a1a1a" stroke-width="0.12">30</text>
<text x="112.4" y="388.3" font-size="7.6" text-anchor="middle" fill="#1a1a1a" stroke="#1a1a1a" stroke-width="0.12">36</text>
<text x="123.65" y="388.3" font-size="7.6" text-anchor="middle" fill="#1a1a1a" stroke="#1a1a1a" stroke-width="0.12">42</text>
<text x="134.9" y="388.3" font-size="7.6" text-anchor="middle" fill="#1a1a1a" stroke="#1a1a1a" stroke-width="0.12">48</text>
<text x="146.15" y="388.3" font-size="7.6" text-anchor="middle" fill="#1a1a1a" stroke="#1a1a1a" stroke-width="0.12">54</text>
<text x="157.4" y="388.3" font-size="7.6" text-anchor="middle" fill="#1a1a1a" stroke="#1a1a1a" stroke-width="0.12">60</text>
<text x="168.65" y="388.3" font-size="7.6" text-anchor="middle" fill="#1a1a1a" stroke="#1a1a1a" stroke-width="0.12">66</text>
<text x="179.9" y="388.3" font-size="7.6" text-anchor="middle" fill="#1a1a1a" stroke="#1a1a1a" stroke-width="0.12">72</text>
<text x="191.15" y="388.3" font-size="7.6" text-anchor="middle" fill="#1a1a1a" stroke="#1a1a1a" stroke-width="0.12">78</text>
<text x="202.4" y="388.3" font-size="7.6" text-anchor="middle" fill="#1a1a1a" stroke="#1a1a1a" stroke-width="0.12">84</text>
<text x="213.65" y="388.3" font-size="7.6" text-anchor="middle" fill="#1a1a1a" stroke="#1a1a1a" stroke-width="0.12">90</text>
<text x="224.9" y="388.3" font-size="7.6" text-anchor="middle" fill="#1a1a1a" stroke="#1a1a1a" stroke-width="0.12">96</text>
<text x="236.65" y="388.3" font-size="7.6" text-anchor="middle" fill="#1a1a1a" stroke="#1a1a1a" stroke-width="0.12">102</text>
<text x="249.9" y="388.3" font-size="7.6" text-anchor="middle" fill="#1a1a1a" stroke="#1a1a1a" stroke-width="0.12">108</text>
<text x="6.9" y="231.7" font-size="11.2" font-weight="bold" fill="#000" stroke="#000" stroke-width="0.2">C</text>
<text transform="translate(146.05,241.3) scale(1,1.1)" font-size="9" text-anchor="middle" fill="#1a1a1a" stroke="#1a1a1a" stroke-width="0.2">OS IgD vs. IgA vs. IgG vs. LCO all cytogenetic groups</text>
<text transform="translate(15.25,317.27) rotate(-90)" x="0" y="0" font-size="8.6" text-anchor="middle" textLength="55.4" lengthAdjust="spacingAndGlyphs" fill="#1a1a1a" stroke="#1a1a1a" stroke-width="0.3">Overall survival (%)</text>
<text x="106.9" y="398.2" font-size="8.4" font-weight="bold" textLength="78.3" lengthAdjust="spacingAndGlyphs" fill="#1a1a1a" stroke="#1a1a1a" stroke-width="0.22">Months since randomisation</text>
<text x="36.25" y="408.5" font-size="5.9" textLength="89.5" lengthAdjust="spacingAndGlyphs" fill="#1a1a1a" stroke="#1a1a1a" stroke-width="0.08">Number at risk (number censored)</text>
<path d="M194.2,251.2 H203.5" stroke="#1a1aa0" stroke-width="1.9"/>
<text x="206.4" y="253.8" font-size="7.1" fill="#1a1a1a" stroke="#1a1a1a" stroke-width="0.1" transform="translate(0,-12.69) scale(1,1.05)">IgA</text>
<path d="M228.9,251.2 H238.2" stroke="#ff8c00" stroke-width="1.9"/>
<text x="241.1" y="253.8" font-size="7.1" fill="#1a1a1a" stroke="#1a1a1a" stroke-width="0.1" transform="translate(0,-12.69) scale(1,1.05)">IgG</text>
<path d="M194.2,262.1 H203.5" stroke="#b22222" stroke-width="1.9"/>
<text x="206.4" y="264.7" font-size="7.1" fill="#1a1a1a" stroke="#1a1a1a" stroke-width="0.1" transform="translate(0,-13.24) scale(1,1.05)">IgD</text>
<path d="M228.9,262.1 H238.2" stroke="#cc00cc" stroke-width="1.9"/>
<text x="241.1" y="264.7" font-size="7.1" fill="#1a1a1a" stroke="#1a1a1a" stroke-width="0.1" transform="translate(0,-13.24) scale(1,1.05)">LCO</text>
<text x="150.4" y="278.4" font-size="6.15" fill="#1a1a1a" stroke="#1a1a1a" stroke-width="0.1">IgG</text>
<text x="168.2" y="278.4" font-size="6.15" fill="#1a1a1a" stroke="#1a1a1a" stroke-width="0.1">Median OS: 64 (95% CI, 62–67)</text>
<text x="150.4" y="286.9" font-size="6.15" fill="#1a1a1a" stroke="#1a1a1a" stroke-width="0.1">IgA</text>
<text x="168.2" y="286.9" font-size="6.15" fill="#1a1a1a" stroke="#1a1a1a" stroke-width="0.1">Median OS: 51 (95% CI, 48–54)</text>
<text x="150.4" y="294.5" font-size="6.15" fill="#1a1a1a" stroke="#1a1a1a" stroke-width="0.1">IgD</text>
<text x="168.2" y="294.5" font-size="6.15" fill="#1a1a1a" stroke="#1a1a1a" stroke-width="0.1">Median OS: 48 (95% CI, 35–67)</text>
<text x="150.4" y="303" font-size="6.15" fill="#1a1a1a" stroke="#1a1a1a" stroke-width="0.1">LCO</text>
<text x="168.2" y="303" font-size="6.15" fill="#1a1a1a" stroke="#1a1a1a" stroke-width="0.1">Median OS: 62 (95% CI, 55–70)</text>
<path d="M44.6,261 L46.1,261 L46.1,262.62 L47.6,262.62 L47.6,264.23 L49.35,264.23 L49.35,265.85 L51.1,265.85 L51.1,267.47 L53.35,267.47 L53.35,269.09 L56.1,269.09 L56.1,270.7 L59.1,270.7 L59.1,272.32 L62.35,272.32 L62.35,273.94 L65.6,273.94 L65.6,275.55 L68.85,275.55 L68.85,277.17 L72.1,277.17 L72.1,278.79 L74.85,278.79 L74.85,280.41 L76.35,280.41 L76.35,283.64 L81.85,283.64 L81.85,285.26 L84.1,285.26 L84.1,286.87 L85.85,286.87 L85.85,288.49 L89.35,288.49 L89.35,290.11 L96.35,290.11 L96.35,294.96 L102.1,294.96 L102.1,296.58 L104.1,296.58 L104.1,298.19 L106.6,298.19 L106.6,299.81 L107.6,299.81 L107.6,301.43 L109.85,301.43 L109.85,303.05 L111.6,303.05 L111.6,304.66 L112.6,304.66 L112.6,306.28 L125.1,306.28 L125.1,307.9 L126.6,307.9 L126.6,309.51 L130.1,309.51 L130.1,311.13 L132.35,311.13 L132.35,312.75 L134.6,312.75 L134.6,315.98 L135.1,315.98 L135.1,317.6 L143.35,317.6 L143.35,319.22 L149.35,319.22 L149.35,320.83 L151.6,320.83 L151.6,322.45 L152.1,322.45 L152.1,324.07 L152.85,324.07 L152.85,325.69 L163.85,325.69 L163.85,327.3 L168.1,327.3 L168.1,328.92 L170.35,328.92 L170.35,330.54 L170.6,330.54 L170.6,332.15 L194.6,332.15 L194.6,335.39 L199.1,335.39 L199.1,338.62 L199.35,338.62 L199.35,340.24 L242.2,340.24" fill="none" stroke="#c06060" stroke-width="0.9" stroke-linejoin="round"/>
<path d="M44.4,260.8 L47,263.6 L50.1,266.1 L55,269.8 L60,274.1 L69.6,278.5 L79.2,283.8 L88.8,289.5 L98.5,294.3 L106.2,298.7 L112.7,302.5 L120,307" fill="none" stroke="#000080" stroke-width="1.3" stroke-linejoin="round"/>
<path d="M120,307 L131.5,313.1 L137.3,316 L143.1,318.6 L150,322.1 L159.6,326.2 L169.2,329.5 L178.8,331.4 L184.7,333.4 L191.5,335.6 L198.2,337.7 L204.9,339.7 L211.6,343.7 L218.4,346.5 L225.1,347.3" fill="none" stroke="#000080" stroke-width="1.85" stroke-linejoin="round"/>
<path d="M225.1,347.3 L225.8,351.3 L240.6,351.3" fill="none" stroke="#3a3ac0" stroke-width="0.9" stroke-linejoin="round"/>
<path d="M233,350.1 V352.5 M238,350.1 V352.5 " stroke="#3a3ac0" stroke-width="0.7" fill="none"/>
<path d="M44.4,260.8 L46,263.5 L48.1,266.1 L52,269.5 L56.2,272.2 L64.2,276.8 L80.4,283.3 L96.5,290.9 L112.7,298.5 L120,302.1" fill="none" stroke="#cc00cc" stroke-width="1.35" stroke-linejoin="round"/>
<path d="M120,302.1 L131.5,306.2 L137.3,308.5 L143.1,311.3 L148.8,313.7 L154.6,315.2 L160.4,316.8 L166.2,318.3 L171.9,321.2 L176.5,324.6 L180,326.5 L184.7,328.5 L191.5,329.1 L198.2,330.5 L202.2,333.8 L204.9,336.5 L210.3,339.2 L218.4,339.9 L221.1,341.9 L223.8,343.9 L225.8,345.3 L227.1,348 L227.8,354 L229.8,354.7" fill="none" stroke="#cc00cc" stroke-width="1.75" stroke-linejoin="round"/>
<path d="M44.4,260.8 L46.5,263.5 L49,266 L52.1,268.1 L58,271.5 L64.2,274.8 L80.4,281.3 L96.5,287.3 L104.6,290.6 L112.7,293.9" fill="none" stroke="#ff8c00" stroke-width="1.75" stroke-linejoin="round"/>
<path d="M112.7,293.9 L120,297.6 L131.5,302.6 L143.1,307.3 L150,310.8 L159.6,314.6 L166.2,317.7 L175.4,321.2 L184.7,323.7 L191.5,325.8 L198.2,327.8 L204.9,329.8 L210.3,332.5 L214.3,335.2 L218.4,337.2 L223.8,339.2 L226.5,339.9 L227.1,341.2 L227.8,342.6" fill="none" stroke="#ff8c00" stroke-width="2.05" stroke-linejoin="round"/>
<path d="M227.8,342.6 L229.8,342.6 L230.2,347.3 L235.9,347.3 L236.1,360.8" fill="none" stroke="#ff8c00" stroke-width="0.9" stroke-linejoin="round"/>
<path d="M235.9,346.1 V348.5 " stroke="#ff8c00" stroke-width="0.7" fill="none"/>
<text x="30.25" y="416.9" font-size="5.6" text-anchor="end" fill="#1a1a1a" stroke="#1a1a1a" stroke-width="0.08">IgA</text>
<text transform="translate(44.9,416.9) scale(0.74,1)" font-size="5.6" text-anchor="middle" fill="#1a1a1a" stroke="#1a1a1a" stroke-width="0.25">1406 (3)</text>
<text transform="translate(67.4,416.9) scale(0.74,1)" font-size="5.6" text-anchor="middle" fill="#1a1a1a" stroke="#1a1a1a" stroke-width="0.25">1160 (57)</text>
<text transform="translate(89.9,416.9) scale(0.74,1)" font-size="5.6" text-anchor="middle" fill="#1a1a1a" stroke="#1a1a1a" stroke-width="0.25">985 (67)</text>
<text transform="translate(112.4,416.9) scale(0.74,1)" font-size="5.6" text-anchor="middle" fill="#1a1a1a" stroke="#1a1a1a" stroke-width="0.25">803 (91)</text>
<text transform="translate(134.9,416.9) scale(0.74,1)" font-size="5.6" text-anchor="middle" fill="#1a1a1a" stroke="#1a1a1a" stroke-width="0.25">613 (162)</text>
<text transform="translate(157.4,416.9) scale(0.74,1)" font-size="5.6" text-anchor="middle" fill="#1a1a1a" stroke="#1a1a1a" stroke-width="0.25">412 (258)</text>
<text transform="translate(179.9,416.9) scale(0.74,1)" font-size="5.6" text-anchor="middle" fill="#1a1a1a" stroke="#1a1a1a" stroke-width="0.25">223 (405)</text>
<text transform="translate(202.4,416.9) scale(0.74,1)" font-size="5.6" text-anchor="middle" fill="#1a1a1a" stroke="#1a1a1a" stroke-width="0.25">82 (518)</text>
<text transform="translate(224.9,416.9) scale(0.74,1)" font-size="5.6" text-anchor="middle" fill="#1a1a1a" stroke="#1a1a1a" stroke-width="0.25">10 (570)</text>
<text transform="translate(247.4,416.9) scale(0.74,1)" font-size="5.6" text-anchor="middle" fill="#1a1a1a" stroke="#1a1a1a" stroke-width="0.25">0 (588)</text>
<text x="30.25" y="423.7" font-size="5.6" text-anchor="end" fill="#1a1a1a" stroke="#1a1a1a" stroke-width="0.08">IgD</text>
<text transform="translate(44.9,423.7) scale(0.74,1)" font-size="5.6" text-anchor="middle" fill="#1a1a1a" stroke="#1a1a1a" stroke-width="0.25">70 (1)</text>
<text transform="translate(67.4,423.7) scale(0.74,1)" font-size="5.6" text-anchor="middle" fill="#1a1a1a" stroke="#1a1a1a" stroke-width="0.25">60 (1)</text>
<text transform="translate(89.9,423.7) scale(0.74,1)" font-size="5.6" text-anchor="middle" fill="#1a1a1a" stroke="#1a1a1a" stroke-width="0.25">51 (1)</text>
<text transform="translate(112.4,423.7) scale(0.74,1)" font-size="5.6" text-anchor="middle" fill="#1a1a1a" stroke="#1a1a1a" stroke-width="0.25">41 (3)</text>
<text transform="translate(134.9,423.7) scale(0.74,1)" font-size="5.6" text-anchor="middle" fill="#1a1a1a" stroke="#1a1a1a" stroke-width="0.25">34 (3)</text>
<text transform="translate(157.4,423.7) scale(0.74,1)" font-size="5.6" text-anchor="middle" fill="#1a1a1a" stroke="#1a1a1a" stroke-width="0.25">26 (6)</text>
<text transform="translate(179.9,423.7) scale(0.74,1)" font-size="5.6" text-anchor="middle" fill="#1a1a1a" stroke="#1a1a1a" stroke-width="0.25">15 (14)</text>
<text transform="translate(202.4,423.7) scale(0.74,1)" font-size="5.6" text-anchor="middle" fill="#1a1a1a" stroke="#1a1a1a" stroke-width="0.25">8 (19)</text>
<text transform="translate(224.9,423.7) scale(0.74,1)" font-size="5.6" text-anchor="middle" fill="#1a1a1a" stroke="#1a1a1a" stroke-width="0.25">1 (26)</text>
<text transform="translate(247.4,423.7) scale(0.74,1)" font-size="5.6" text-anchor="middle" fill="#1a1a1a" stroke="#1a1a1a" stroke-width="0.25">0 (37)</text>
<text x="30.25" y="430.5" font-size="5.6" text-anchor="end" fill="#1a1a1a" stroke="#1a1a1a" stroke-width="0.08">IgG</text>
<text transform="translate(44.9,430.5) scale(0.74,1)" font-size="5.6" text-anchor="middle" fill="#1a1a1a" stroke="#1a1a1a" stroke-width="0.25">3587 (8)</text>
<text transform="translate(67.4,430.5) scale(0.74,1)" font-size="5.6" text-anchor="middle" fill="#1a1a1a" stroke="#1a1a1a" stroke-width="0.25">3010 (124)</text>
<text transform="translate(89.9,430.5) scale(0.74,1)" font-size="5.6" text-anchor="middle" fill="#1a1a1a" stroke="#1a1a1a" stroke-width="0.25">2684 (155)</text>
<text transform="translate(112.4,430.5) scale(0.74,1)" font-size="5.6" text-anchor="middle" fill="#1a1a1a" stroke="#1a1a1a" stroke-width="0.25">2298 (248)</text>
<text transform="translate(134.9,430.5) scale(0.74,1)" font-size="5.6" text-anchor="middle" fill="#1a1a1a" stroke="#1a1a1a" stroke-width="0.25">1801 (488)</text>
<text transform="translate(157.4,430.5) scale(0.74,1)" font-size="5.6" text-anchor="middle" fill="#1a1a1a" stroke="#1a1a1a" stroke-width="0.25">1195 (867)</text>
<text transform="translate(179.9,430.5) scale(0.74,1)" font-size="5.6" text-anchor="middle" fill="#1a1a1a" stroke="#1a1a1a" stroke-width="0.25">623 (1E3)</text>
<text transform="translate(202.4,430.5) scale(0.74,1)" font-size="5.6" text-anchor="middle" fill="#1a1a1a" stroke="#1a1a1a" stroke-width="0.25">234 (2E3)</text>
<text transform="translate(224.9,430.5) scale(0.74,1)" font-size="5.6" text-anchor="middle" fill="#1a1a1a" stroke="#1a1a1a" stroke-width="0.25">23 (2E3)</text>
<text transform="translate(247.4,430.5) scale(0.74,1)" font-size="5.6" text-anchor="middle" fill="#1a1a1a" stroke="#1a1a1a" stroke-width="0.25">0 (2E3)</text>
<text x="30.25" y="437.3" font-size="5.6" text-anchor="end" fill="#1a1a1a" stroke="#1a1a1a" stroke-width="0.08">LCO</text>
<text transform="translate(44.9,437.3) scale(0.74,1)" font-size="5.6" text-anchor="middle" fill="#1a1a1a" stroke="#1a1a1a" stroke-width="0.25">710 (1)</text>
<text transform="translate(67.4,437.3) scale(0.74,1)" font-size="5.6" text-anchor="middle" fill="#1a1a1a" stroke="#1a1a1a" stroke-width="0.25">587 (16)</text>
<text transform="translate(89.9,437.3) scale(0.74,1)" font-size="5.6" text-anchor="middle" fill="#1a1a1a" stroke="#1a1a1a" stroke-width="0.25">520 (22)</text>
<text transform="translate(112.4,437.3) scale(0.74,1)" font-size="5.6" text-anchor="middle" fill="#1a1a1a" stroke="#1a1a1a" stroke-width="0.25">443 (38)</text>
<text transform="translate(134.9,437.3) scale(0.74,1)" font-size="5.6" text-anchor="middle" fill="#1a1a1a" stroke="#1a1a1a" stroke-width="0.25">346 (82)</text>
<text transform="translate(157.4,437.3) scale(0.74,1)" font-size="5.6" text-anchor="middle" fill="#1a1a1a" stroke="#1a1a1a" stroke-width="0.25">235 (155)</text>
<text transform="translate(179.9,437.3) scale(0.74,1)" font-size="5.6" text-anchor="middle" fill="#1a1a1a" stroke="#1a1a1a" stroke-width="0.25">115 (241)</text>
<text transform="translate(202.4,437.3) scale(0.74,1)" font-size="5.6" text-anchor="middle" fill="#1a1a1a" stroke="#1a1a1a" stroke-width="0.25">51 (291)</text>
<text transform="translate(224.9,437.3) scale(0.74,1)" font-size="5.6" text-anchor="middle" fill="#1a1a1a" stroke="#1a1a1a" stroke-width="0.25">6 (329)</text>
<text transform="translate(247.4,437.3) scale(0.74,1)" font-size="5.6" text-anchor="middle" fill="#1a1a1a" stroke="#1a1a1a" stroke-width="0.25">0 (334)</text>
<path d="M293.55,257.3 V376.9 M292.95,376.3 H513.55" stroke="#333" stroke-width="1.25" fill="none"/>
<path d="M290.35,261.35 H293.55 M290.35,272.63 H293.55 M290.35,283.92 H293.55 M290.35,295.21 H293.55 M290.35,306.49 H293.55 M290.35,317.77 H293.55 M290.35,329.06 H293.55 M290.35,340.35 H293.55 M290.35,351.63 H293.55 M290.35,362.91 H293.55 M290.35,374.2 H293.55 M302.1,376.3 V379.2 M313.35,376.3 V379.2 M324.6,376.3 V379.2 M335.85,376.3 V379.2 M347.1,376.3 V379.2 M358.35,376.3 V379.2 M369.6,376.3 V379.2 M380.85,376.3 V379.2 M392.1,376.3 V379.2 M403.35,376.3 V379.2 M414.6,376.3 V379.2 M425.85,376.3 V379.2 M437.1,376.3 V379.2 M448.35,376.3 V379.2 M459.6,376.3 V379.2 M470.85,376.3 V379.2 M482.1,376.3 V379.2 M493.35,376.3 V379.2 M504.6,376.3 V379.2 " stroke="#333" stroke-width="1.1" fill="none"/>
<text x="287.35" y="263.75" font-size="7.6" text-anchor="end" fill="#1a1a1a" stroke="#1a1a1a" stroke-width="0.12">100</text>
<text x="287.35" y="275.03" font-size="7.6" text-anchor="end" fill="#1a1a1a" stroke="#1a1a1a" stroke-width="0.12">90</text>
<text x="287.35" y="286.32" font-size="7.6" text-anchor="end" fill="#1a1a1a" stroke="#1a1a1a" stroke-width="0.12">80</text>
<text x="287.35" y="297.61" font-size="7.6" text-anchor="end" fill="#1a1a1a" stroke="#1a1a1a" stroke-width="0.12">70</text>
<text x="287.35" y="308.89" font-size="7.6" text-anchor="end" fill="#1a1a1a" stroke="#1a1a1a" stroke-width="0.12">60</text>
<text x="287.35" y="320.17" font-size="7.6" text-anchor="end" fill="#1a1a1a" stroke="#1a1a1a" stroke-width="0.12">50</text>
<text x="287.35" y="331.46" font-size="7.6" text-anchor="end" fill="#1a1a1a" stroke="#1a1a1a" stroke-width="0.12">40</text>
<text x="287.35" y="342.75" font-size="7.6" text-anchor="end" fill="#1a1a1a" stroke="#1a1a1a" stroke-width="0.12">30</text>
<text x="287.35" y="354.03" font-size="7.6" text-anchor="end" fill="#1a1a1a" stroke="#1a1a1a" stroke-width="0.12">20</text>
<text x="287.35" y="365.31" font-size="7.6" text-anchor="end" fill="#1a1a1a" stroke="#1a1a1a" stroke-width="0.12">10</text>
<text x="287.35" y="376.6" font-size="7.6" text-anchor="end" fill="#1a1a1a" stroke="#1a1a1a" stroke-width="0.12">0</text>
<text x="302.1" y="388.3" font-size="7.6" text-anchor="middle" fill="#1a1a1a" stroke="#1a1a1a" stroke-width="0.12">0</text>
<text x="313.35" y="388.3" font-size="7.6" text-anchor="middle" fill="#1a1a1a" stroke="#1a1a1a" stroke-width="0.12">6</text>
<text x="324.6" y="388.3" font-size="7.6" text-anchor="middle" fill="#1a1a1a" stroke="#1a1a1a" stroke-width="0.12">12</text>
<text x="335.85" y="388.3" font-size="7.6" text-anchor="middle" fill="#1a1a1a" stroke="#1a1a1a" stroke-width="0.12">18</text>
<text x="347.1" y="388.3" font-size="7.6" text-anchor="middle" fill="#1a1a1a" stroke="#1a1a1a" stroke-width="0.12">24</text>
<text x="358.35" y="388.3" font-size="7.6" text-anchor="middle" fill="#1a1a1a" stroke="#1a1a1a" stroke-width="0.12">30</text>
<text x="369.6" y="388.3" font-size="7.6" text-anchor="middle" fill="#1a1a1a" stroke="#1a1a1a" stroke-width="0.12">36</text>
<text x="380.85" y="388.3" font-size="7.6" text-anchor="middle" fill="#1a1a1a" stroke="#1a1a1a" stroke-width="0.12">42</text>
<text x="392.1" y="388.3" font-size="7.6" text-anchor="middle" fill="#1a1a1a" stroke="#1a1a1a" stroke-width="0.12">48</text>
<text x="403.35" y="388.3" font-size="7.6" text-anchor="middle" fill="#1a1a1a" stroke="#1a1a1a" stroke-width="0.12">54</text>
<text x="414.6" y="388.3" font-size="7.6" text-anchor="middle" fill="#1a1a1a" stroke="#1a1a1a" stroke-width="0.12">60</text>
<text x="425.85" y="388.3" font-size="7.6" text-anchor="middle" fill="#1a1a1a" stroke="#1a1a1a" stroke-width="0.12">66</text>
<text x="437.1" y="388.3" font-size="7.6" text-anchor="middle" fill="#1a1a1a" stroke="#1a1a1a" stroke-width="0.12">72</text>
<text x="448.35" y="388.3" font-size="7.6" text-anchor="middle" fill="#1a1a1a" stroke="#1a1a1a" stroke-width="0.12">78</text>
<text x="459.6" y="388.3" font-size="7.6" text-anchor="middle" fill="#1a1a1a" stroke="#1a1a1a" stroke-width="0.12">84</text>
<text x="470.85" y="388.3" font-size="7.6" text-anchor="middle" fill="#1a1a1a" stroke="#1a1a1a" stroke-width="0.12">90</text>
<text x="482.1" y="388.3" font-size="7.6" text-anchor="middle" fill="#1a1a1a" stroke="#1a1a1a" stroke-width="0.12">96</text>
<text x="493.15" y="388.3" font-size="7.6" text-anchor="middle" fill="#1a1a1a" stroke="#1a1a1a" stroke-width="0.12">102</text>
<text x="507.1" y="388.3" font-size="7.6" text-anchor="middle" fill="#1a1a1a" stroke="#1a1a1a" stroke-width="0.12">108</text>
<text x="264.1" y="231.7" font-size="11.2" font-weight="bold" fill="#000" stroke="#000" stroke-width="0.2">D</text>
<text transform="translate(403.25,241.3) scale(1,1.1)" font-size="9" text-anchor="middle" fill="#1a1a1a" stroke="#1a1a1a" stroke-width="0.2">PFS IgD vs. IgA vs. IgG vs. LCO all cytogenetic groups</text>
<text transform="translate(272.45,317.27) rotate(-90)" x="0" y="0" font-size="8.6" text-anchor="middle" textLength="81.5" lengthAdjust="spacingAndGlyphs" fill="#1a1a1a" stroke="#1a1a1a" stroke-width="0.3">Progression-free survival (%)</text>
<text x="364.1" y="398.2" font-size="8.4" font-weight="bold" textLength="78.3" lengthAdjust="spacingAndGlyphs" fill="#1a1a1a" stroke="#1a1a1a" stroke-width="0.22">Months since randomisation</text>
<text x="293.45" y="408.5" font-size="5.9" textLength="89.5" lengthAdjust="spacingAndGlyphs" fill="#1a1a1a" stroke="#1a1a1a" stroke-width="0.08">Number at risk (number censored)</text>
<path d="M452,251.2 H461.3" stroke="#1a1aa0" stroke-width="1.9"/>
<text x="464.2" y="253.8" font-size="7.1" fill="#1a1a1a" stroke="#1a1a1a" stroke-width="0.1" transform="translate(0,-12.69) scale(1,1.05)">IgA</text>
<path d="M486.1,251.2 H495.4" stroke="#ff8c00" stroke-width="1.9"/>
<text x="498.3" y="253.8" font-size="7.1" fill="#1a1a1a" stroke="#1a1a1a" stroke-width="0.1" transform="translate(0,-12.69) scale(1,1.05)">IgG</text>
<path d="M452,262.1 H461.3" stroke="#b22222" stroke-width="1.9"/>
<text x="464.2" y="264.7" font-size="7.1" fill="#1a1a1a" stroke="#1a1a1a" stroke-width="0.1" transform="translate(0,-13.24) scale(1,1.05)">IgD</text>
<path d="M486.1,262.1 H495.4" stroke="#cc00cc" stroke-width="1.9"/>
<text x="498.3" y="264.7" font-size="7.1" fill="#1a1a1a" stroke="#1a1a1a" stroke-width="0.1" transform="translate(0,-13.24) scale(1,1.05)">LCO</text>
<text x="405.5" y="278.4" font-size="6.15" fill="#1a1a1a" stroke="#1a1a1a" stroke-width="0.1">IgG</text>
<text x="423.6" y="278.4" font-size="6.15" fill="#1a1a1a" stroke="#1a1a1a" stroke-width="0.1">Median PFS: 23 (95% CI, 22–24)</text>
<text x="405.5" y="286.9" font-size="6.15" fill="#1a1a1a" stroke="#1a1a1a" stroke-width="0.1">IgA</text>
<text x="423.6" y="286.9" font-size="6.15" fill="#1a1a1a" stroke="#1a1a1a" stroke-width="0.1">Median PFS: 20 (95% CI, 19–22)</text>
<text x="405.5" y="294.5" font-size="6.15" fill="#1a1a1a" stroke="#1a1a1a" stroke-width="0.1">IgD</text>
<text x="423.6" y="294.5" font-size="6.15" fill="#1a1a1a" stroke="#1a1a1a" stroke-width="0.1">Median PFS: 23 (95% CI, 16–29)</text>
<text x="405.5" y="303" font-size="6.15" fill="#1a1a1a" stroke="#1a1a1a" stroke-width="0.1">LCO</text>
<text x="423.6" y="303" font-size="6.15" fill="#1a1a1a" stroke="#1a1a1a" stroke-width="0.1">Median PFS: 22 (95% CI, 19–25)</text>
<path d="M302.2,261 L303.45,261 L303.45,262.62 L304.95,262.62 L304.95,264.23 L306.2,264.23 L306.2,265.85 L307.7,265.85 L307.7,267.47 L308.95,267.47 L308.95,269.09 L310.45,269.09 L310.45,270.7 L311.7,270.7 L311.7,272.32 L312.95,272.32 L312.95,273.94 L314.2,273.94 L314.2,275.55 L315.2,275.55 L315.2,277.17 L316.2,277.17 L316.2,278.79 L317.2,278.79 L317.2,280.41 L317.95,280.41 L317.95,282.02 L318.95,282.02 L318.95,283.64 L319.7,283.64 L319.7,285.26 L320.95,285.26 L320.95,286.87 L321.95,286.87 L321.95,288.49 L322.95,288.49 L322.95,290.11 L323.95,290.11 L323.95,291.73 L324.95,291.73 L324.95,293.34 L326.2,293.34 L326.2,294.96 L327.2,294.96 L327.2,296.58 L328.2,296.58 L328.2,298.19 L328.95,298.19 L328.95,299.81 L329.7,299.81 L329.7,301.43 L330.95,301.43 L330.95,303.05 L333.2,303.05 L333.2,304.66 L337.2,304.66 L337.2,306.28 L337.95,306.28 L337.95,307.9 L338.7,307.9 L338.7,309.51 L341.95,309.51 L341.95,311.13 L342.95,311.13 L342.95,312.75 L343.95,312.75 L343.95,314.37 L344.7,314.37 L344.7,315.98 L345.7,315.98 L345.7,317.6 L346.7,317.6 L346.7,319.22 L347.45,319.22 L347.45,320.83 L348.45,320.83 L348.45,322.45 L349.7,322.45 L349.7,324.07 L350.95,324.07 L350.95,325.69 L352.2,325.69 L352.2,327.3 L353.45,327.3 L353.45,328.92 L355.45,328.92 L355.45,330.54 L358.45,330.54 L358.45,332.15 L359.2,332.15 L359.2,333.77 L360.45,333.77 L360.45,335.39 L362.2,335.39 L362.2,337.01 L364.2,337.01 L364.2,338.62 L368.95,338.62 L368.95,340.24 L373.45,340.24 L373.45,341.86 L380.7,341.86 L380.7,343.47 L389.7,343.47 L389.7,345.09 L401.45,345.09 L401.45,346.71 L420.45,346.71 L420.45,348.33 L427.95,348.33 L427.95,349.94 L428.45,349.94 L428.45,351.56 L430.45,351.56 L430.45,353.18 L430.95,353.18 L430.95,354.79 L500,354.79" fill="none" stroke="#c06060" stroke-width="0.9" stroke-linejoin="round"/>
<path d="M301.8,260.8 L307.6,267.5 L312.4,273.3 L317.2,280 L322,288.7 L326.8,297.3 L330,303.5 L337.7,314 L345,323.7 L349.8,328" fill="none" stroke="#000080" stroke-width="1.35" stroke-linejoin="round"/>
<path d="M349.8,328 L354.6,331.8 L359.4,334.7 L364.2,337.6 L369,341.4 L373.8,343.8 L378.7,345.6 L383.5,347.2 L388.3,348.7 L395,350.6 L400,352.2 L410.6,355.3 L421.2,357.6 L431.7,359.6 L442.3,361.1 L452.9,362.2 L463.5,363 L474,363.4 L480,363.4" fill="none" stroke="#000080" stroke-width="1.7" stroke-linejoin="round"/>
<path d="M480,363.4 L497.3,363.4" fill="none" stroke="#3a3ac0" stroke-width="0.9" stroke-linejoin="round"/>
<path d="M484,362.2 V364.6 M488,362.2 V364.6 M492,362.2 V364.6 M497.3,362.2 V364.6 " stroke="#3a3ac0" stroke-width="0.7" fill="none"/>
<path d="M301.8,260.8 L304.7,266.5 L307.6,270.4 L312.4,278.1 L317.2,285.8 L322,291.5 L326.8,298.3 L330,302.7 L337.7,312.2 L345.4,320.5 L349.8,324.1 L354.6,327.5 L359.4,331.3 L364.2,335.7 L369,338.6 L373.8,341 L378.7,342.9 L383.5,344.8 L388.3,346.5 L395,348.2 L399.2,349.6 L410,351.9 L421.2,354.6 L442.3,357.1 L463.5,359 L476,359.6 L486.7,359.6" fill="none" stroke="#cc00cc" stroke-width="1.3" stroke-linejoin="round"/>
<path d="M301.8,260.8 L307.6,267.5 L312.4,273.3 L317.2,280 L322,288.7 L326.8,297.3 L330,301.5 L333.5,305.5 L337.7,310.2 L341.5,314.2 L345,317.4 L349.8,322.2" fill="none" stroke="#ff8c00" stroke-width="1.6" stroke-linejoin="round"/>
<path d="M349.8,322.2 L354.6,326.1 L359.4,329.4 L364.2,332.3 L369,335 L373.8,337.6 L378.7,339.8 L383.5,341.7 L388.3,343.7 L395,345.6 L399.2,347 L410,350 L421.2,353.4 L431.7,355.6 L442.3,357.4 L452.9,358.9 L463.5,360 L474,361.3 L480.4,362.6 L487,363.2" fill="none" stroke="#ff8c00" stroke-width="1.9" stroke-linejoin="round"/>
<path d="M487,363.2 L494.1,363.4 L494.1,369.1" fill="none" stroke="#ff8c00" stroke-width="0.9" stroke-linejoin="round"/>
<text x="287.45" y="416.9" font-size="5.6" text-anchor="end" fill="#1a1a1a" stroke="#1a1a1a" stroke-width="0.08">IgA</text>
<text transform="translate(302.1,416.9) scale(0.74,1)" font-size="5.6" text-anchor="middle" fill="#1a1a1a" stroke="#1a1a1a" stroke-width="0.25">1406 (4)</text>
<text transform="translate(324.6,416.9) scale(0.74,1)" font-size="5.6" text-anchor="middle" fill="#1a1a1a" stroke="#1a1a1a" stroke-width="0.25">951 (54)</text>
<text transform="translate(347.1,416.9) scale(0.74,1)" font-size="5.6" text-anchor="middle" fill="#1a1a1a" stroke="#1a1a1a" stroke-width="0.25">559 (62)</text>
<text transform="translate(369.6,416.9) scale(0.74,1)" font-size="5.6" text-anchor="middle" fill="#1a1a1a" stroke="#1a1a1a" stroke-width="0.25">358 (75)</text>
<text transform="translate(392.1,416.9) scale(0.74,1)" font-size="5.6" text-anchor="middle" fill="#1a1a1a" stroke="#1a1a1a" stroke-width="0.25">243 (100)</text>
<text transform="translate(414.6,416.9) scale(0.74,1)" font-size="5.6" text-anchor="middle" fill="#1a1a1a" stroke="#1a1a1a" stroke-width="0.25">153 (137)</text>
<text transform="translate(437.1,416.9) scale(0.74,1)" font-size="5.6" text-anchor="middle" fill="#1a1a1a" stroke="#1a1a1a" stroke-width="0.25">81 (183)</text>
<text transform="translate(459.6,416.9) scale(0.74,1)" font-size="5.6" text-anchor="middle" fill="#1a1a1a" stroke="#1a1a1a" stroke-width="0.25">28 (226)</text>
<text transform="translate(482.1,416.9) scale(0.74,1)" font-size="5.6" text-anchor="middle" fill="#1a1a1a" stroke="#1a1a1a" stroke-width="0.25">4 (248)</text>
<text transform="translate(504.6,416.9) scale(0.74,1)" font-size="5.6" text-anchor="middle" fill="#1a1a1a" stroke="#1a1a1a" stroke-width="0.25">0 (252)</text>
<text x="287.45" y="423.7" font-size="5.6" text-anchor="end" fill="#1a1a1a" stroke="#1a1a1a" stroke-width="0.08">IgD</text>
<text transform="translate(302.1,423.7) scale(0.74,1)" font-size="5.6" text-anchor="middle" fill="#1a1a1a" stroke="#1a1a1a" stroke-width="0.25">70 (1)</text>
<text transform="translate(324.6,423.7) scale(0.74,1)" font-size="5.6" text-anchor="middle" fill="#1a1a1a" stroke="#1a1a1a" stroke-width="0.25">50 (1)</text>
<text transform="translate(347.1,423.7) scale(0.74,1)" font-size="5.6" text-anchor="middle" fill="#1a1a1a" stroke="#1a1a1a" stroke-width="0.25">33 (1)</text>
<text transform="translate(369.6,423.7) scale(0.74,1)" font-size="5.6" text-anchor="middle" fill="#1a1a1a" stroke="#1a1a1a" stroke-width="0.25">21 (2)</text>
<text transform="translate(392.1,423.7) scale(0.74,1)" font-size="5.6" text-anchor="middle" fill="#1a1a1a" stroke="#1a1a1a" stroke-width="0.25">17 (2)</text>
<text transform="translate(414.6,423.7) scale(0.74,1)" font-size="5.6" text-anchor="middle" fill="#1a1a1a" stroke="#1a1a1a" stroke-width="0.25">15 (3)</text>
<text transform="translate(437.1,423.7) scale(0.74,1)" font-size="5.6" text-anchor="middle" fill="#1a1a1a" stroke="#1a1a1a" stroke-width="0.25">6 (8)</text>
<text transform="translate(459.6,423.7) scale(0.74,1)" font-size="5.6" text-anchor="middle" fill="#1a1a1a" stroke="#1a1a1a" stroke-width="0.25">4 (11)</text>
<text transform="translate(482.1,423.7) scale(0.74,1)" font-size="5.6" text-anchor="middle" fill="#1a1a1a" stroke="#1a1a1a" stroke-width="0.25">1 (14)</text>
<text transform="translate(504.6,423.7) scale(0.74,1)" font-size="5.6" text-anchor="middle" fill="#1a1a1a" stroke="#1a1a1a" stroke-width="0.25">0 (15)</text>
<text x="287.45" y="430.5" font-size="5.6" text-anchor="end" fill="#1a1a1a" stroke="#1a1a1a" stroke-width="0.08">IgG</text>
<text transform="translate(302.1,430.5) scale(0.74,1)" font-size="5.6" text-anchor="middle" fill="#1a1a1a" stroke="#1a1a1a" stroke-width="0.25">3587 (10)</text>
<text transform="translate(324.6,430.5) scale(0.74,1)" font-size="5.6" text-anchor="middle" fill="#1a1a1a" stroke="#1a1a1a" stroke-width="0.25">2451 (120)</text>
<text transform="translate(347.1,430.5) scale(0.74,1)" font-size="5.6" text-anchor="middle" fill="#1a1a1a" stroke="#1a1a1a" stroke-width="0.25">1635 (136)</text>
<text transform="translate(369.6,430.5) scale(0.74,1)" font-size="5.6" text-anchor="middle" fill="#1a1a1a" stroke="#1a1a1a" stroke-width="0.25">1110 (181)</text>
<text transform="translate(392.1,430.5) scale(0.74,1)" font-size="5.6" text-anchor="middle" fill="#1a1a1a" stroke="#1a1a1a" stroke-width="0.25">755 (281)</text>
<text transform="translate(414.6,430.5) scale(0.74,1)" font-size="5.6" text-anchor="middle" fill="#1a1a1a" stroke="#1a1a1a" stroke-width="0.25">460 (419)</text>
<text transform="translate(437.1,430.5) scale(0.74,1)" font-size="5.6" text-anchor="middle" fill="#1a1a1a" stroke="#1a1a1a" stroke-width="0.25">240 (560)</text>
<text transform="translate(459.6,430.5) scale(0.74,1)" font-size="5.6" text-anchor="middle" fill="#1a1a1a" stroke="#1a1a1a" stroke-width="0.25">96 (677)</text>
<text transform="translate(482.1,430.5) scale(0.74,1)" font-size="5.6" text-anchor="middle" fill="#1a1a1a" stroke="#1a1a1a" stroke-width="0.25">9 (754)</text>
<text transform="translate(504.6,430.5) scale(0.74,1)" font-size="5.6" text-anchor="middle" fill="#1a1a1a" stroke="#1a1a1a" stroke-width="0.25">0 (762)</text>
<text x="287.45" y="437.3" font-size="5.6" text-anchor="end" fill="#1a1a1a" stroke="#1a1a1a" stroke-width="0.08">LCO</text>
<text transform="translate(302.1,437.3) scale(0.74,1)" font-size="5.6" text-anchor="middle" fill="#1a1a1a" stroke="#1a1a1a" stroke-width="0.25">710 (1)</text>
<text transform="translate(324.6,437.3) scale(0.74,1)" font-size="5.6" text-anchor="middle" fill="#1a1a1a" stroke="#1a1a1a" stroke-width="0.25">488 (13)</text>
<text transform="translate(347.1,437.3) scale(0.74,1)" font-size="5.6" text-anchor="middle" fill="#1a1a1a" stroke="#1a1a1a" stroke-width="0.25">327 (18)</text>
<text transform="translate(369.6,437.3) scale(0.74,1)" font-size="5.6" text-anchor="middle" fill="#1a1a1a" stroke="#1a1a1a" stroke-width="0.25">211 (33)</text>
<text transform="translate(392.1,437.3) scale(0.74,1)" font-size="5.6" text-anchor="middle" fill="#1a1a1a" stroke="#1a1a1a" stroke-width="0.25">135 (46)</text>
<text transform="translate(414.6,437.3) scale(0.74,1)" font-size="5.6" text-anchor="middle" fill="#1a1a1a" stroke="#1a1a1a" stroke-width="0.25">87 (68)</text>
<text transform="translate(437.1,437.3) scale(0.74,1)" font-size="5.6" text-anchor="middle" fill="#1a1a1a" stroke="#1a1a1a" stroke-width="0.25">49 (98)</text>
<text transform="translate(459.6,437.3) scale(0.74,1)" font-size="5.6" text-anchor="middle" fill="#1a1a1a" stroke="#1a1a1a" stroke-width="0.25">22 (118)</text>
<text transform="translate(482.1,437.3) scale(0.74,1)" font-size="5.6" text-anchor="middle" fill="#1a1a1a" stroke="#1a1a1a" stroke-width="0.25">2 (136)</text>
<text transform="translate(504.6,437.3) scale(0.74,1)" font-size="5.6" text-anchor="middle" fill="#1a1a1a" stroke="#1a1a1a" stroke-width="0.25">0 (140)</text>
<path d="M36.35,483.6 V608.3 M35.75,607.7 H256.35" stroke="#333" stroke-width="1.25" fill="none"/>
<path d="M33.15,487.3 H36.35 M33.15,499.13 H36.35 M33.15,510.96 H36.35 M33.15,522.79 H36.35 M33.15,534.62 H36.35 M33.15,546.45 H36.35 M33.15,558.28 H36.35 M33.15,570.11 H36.35 M33.15,581.94 H36.35 M33.15,593.77 H36.35 M33.15,605.6 H36.35 M40.95,607.7 V610.6 M52.66,607.7 V610.6 M64.37,607.7 V610.6 M76.08,607.7 V610.6 M87.79,607.7 V610.6 M99.5,607.7 V610.6 M111.21,607.7 V610.6 M122.92,607.7 V610.6 M134.63,607.7 V610.6 M146.34,607.7 V610.6 M158.05,607.7 V610.6 M169.76,607.7 V610.6 M181.47,607.7 V610.6 M193.18,607.7 V610.6 M204.89,607.7 V610.6 M216.6,607.7 V610.6 M228.31,607.7 V610.6 M240.02,607.7 V610.6 M251.73,607.7 V610.6 " stroke="#333" stroke-width="1.1" fill="none"/>
<text x="30.15" y="489.7" font-size="7.6" text-anchor="end" fill="#1a1a1a" stroke="#1a1a1a" stroke-width="0.12">100</text>
<text x="30.15" y="501.53" font-size="7.6" text-anchor="end" fill="#1a1a1a" stroke="#1a1a1a" stroke-width="0.12">90</text>
<text x="30.15" y="513.36" font-size="7.6" text-anchor="end" fill="#1a1a1a" stroke="#1a1a1a" stroke-width="0.12">80</text>
<text x="30.15" y="525.19" font-size="7.6" text-anchor="end" fill="#1a1a1a" stroke="#1a1a1a" stroke-width="0.12">70</text>
<text x="30.15" y="537.02" font-size="7.6" text-anchor="end" fill="#1a1a1a" stroke="#1a1a1a" stroke-width="0.12">60</text>
<text x="30.15" y="548.85" font-size="7.6" text-anchor="end" fill="#1a1a1a" stroke="#1a1a1a" stroke-width="0.12">50</text>
<text x="30.15" y="560.68" font-size="7.6" text-anchor="end" fill="#1a1a1a" stroke="#1a1a1a" stroke-width="0.12">40</text>
<text x="30.15" y="572.51" font-size="7.6" text-anchor="end" fill="#1a1a1a" stroke="#1a1a1a" stroke-width="0.12">30</text>
<text x="30.15" y="584.34" font-size="7.6" text-anchor="end" fill="#1a1a1a" stroke="#1a1a1a" stroke-width="0.12">20</text>
<text x="30.15" y="596.17" font-size="7.6" text-anchor="end" fill="#1a1a1a" stroke="#1a1a1a" stroke-width="0.12">10</text>
<text x="30.15" y="608" font-size="7.6" text-anchor="end" fill="#1a1a1a" stroke="#1a1a1a" stroke-width="0.12">0</text>
<text x="40.95" y="619.7" font-size="7.6" text-anchor="middle" fill="#1a1a1a" stroke="#1a1a1a" stroke-width="0.12">0</text>
<text x="52.66" y="619.7" font-size="7.6" text-anchor="middle" fill="#1a1a1a" stroke="#1a1a1a" stroke-width="0.12">6</text>
<text x="64.37" y="619.7" font-size="7.6" text-anchor="middle" fill="#1a1a1a" stroke="#1a1a1a" stroke-width="0.12">12</text>
<text x="76.08" y="619.7" font-size="7.6" text-anchor="middle" fill="#1a1a1a" stroke="#1a1a1a" stroke-width="0.12">18</text>
<text x="87.79" y="619.7" font-size="7.6" text-anchor="middle" fill="#1a1a1a" stroke="#1a1a1a" stroke-width="0.12">24</text>
<text x="99.5" y="619.7" font-size="7.6" text-anchor="middle" fill="#1a1a1a" stroke="#1a1a1a" stroke-width="0.12">30</text>
<text x="111.21" y="619.7" font-size="7.6" text-anchor="middle" fill="#1a1a1a" stroke="#1a1a1a" stroke-width="0.12">36</text>
<text x="122.92" y="619.7" font-size="7.6" text-anchor="middle" fill="#1a1a1a" stroke="#1a1a1a" stroke-width="0.12">42</text>
<text x="134.63" y="619.7" font-size="7.6" text-anchor="middle" fill="#1a1a1a" stroke="#1a1a1a" stroke-width="0.12">48</text>
<text x="146.34" y="619.7" font-size="7.6" text-anchor="middle" fill="#1a1a1a" stroke="#1a1a1a" stroke-width="0.12">54</text>
<text x="158.05" y="619.7" font-size="7.6" text-anchor="middle" fill="#1a1a1a" stroke="#1a1a1a" stroke-width="0.12">60</text>
<text x="169.76" y="619.7" font-size="7.6" text-anchor="middle" fill="#1a1a1a" stroke="#1a1a1a" stroke-width="0.12">66</text>
<text x="181.47" y="619.7" font-size="7.6" text-anchor="middle" fill="#1a1a1a" stroke="#1a1a1a" stroke-width="0.12">72</text>
<text x="193.18" y="619.7" font-size="7.6" text-anchor="middle" fill="#1a1a1a" stroke="#1a1a1a" stroke-width="0.12">78</text>
<text x="204.89" y="619.7" font-size="7.6" text-anchor="middle" fill="#1a1a1a" stroke="#1a1a1a" stroke-width="0.12">84</text>
<text x="216.6" y="619.7" font-size="7.6" text-anchor="middle" fill="#1a1a1a" stroke="#1a1a1a" stroke-width="0.12">90</text>
<text x="228.31" y="619.7" font-size="7.6" text-anchor="middle" fill="#1a1a1a" stroke="#1a1a1a" stroke-width="0.12">96</text>
<text x="240.72" y="619.7" font-size="7.6" text-anchor="middle" fill="#1a1a1a" stroke="#1a1a1a" stroke-width="0.12">102</text>
<text x="253.63" y="619.7" font-size="7.6" text-anchor="middle" fill="#1a1a1a" stroke="#1a1a1a" stroke-width="0.12">108</text>
<text x="6.9" y="462.3" font-size="11.2" font-weight="bold" fill="#000" stroke="#000" stroke-width="0.2">E</text>
<text transform="translate(146.05,472.9) scale(1,1.1)" font-size="9" text-anchor="middle" fill="#1a1a1a" stroke="#1a1a1a" stroke-width="0.2">OS IgD by cytogenetic groups</text>
<text transform="translate(15.25,545.95) rotate(-90)" x="0" y="0" font-size="8.6" text-anchor="middle" textLength="55.4" lengthAdjust="spacingAndGlyphs" fill="#1a1a1a" stroke="#1a1a1a" stroke-width="0.3">Overall survival (%)</text>
<text x="106.9" y="629.6" font-size="8.4" font-weight="bold" textLength="78.3" lengthAdjust="spacingAndGlyphs" fill="#1a1a1a" stroke="#1a1a1a" stroke-width="0.22">Months since randomisation</text>
<text x="36.25" y="639.9" font-size="5.9" textLength="89.5" lengthAdjust="spacingAndGlyphs" fill="#1a1a1a" stroke="#1a1a1a" stroke-width="0.08">Number at risk (number censored)</text>
<path d="M188.5,482.8 H197.8" stroke="#d2143c" stroke-width="1.9"/>
<text x="200.7" y="485.4" font-size="7.1" fill="#1a1a1a" stroke="#1a1a1a" stroke-width="0.1" transform="translate(0,-24.27) scale(1,1.05)">HiR</text>
<path d="M222.4,482.8 H231.7" stroke="#44bb44" stroke-width="1.9"/>
<text x="234.6" y="485.4" font-size="7.1" fill="#1a1a1a" stroke="#1a1a1a" stroke-width="0.1" transform="translate(0,-24.27) scale(1,1.05)">UHiR</text>
<path d="M188.5,492.9 H197.8" stroke="#1f5b99" stroke-width="1.9"/>
<text x="200.7" y="495.5" font-size="7.1" fill="#1a1a1a" stroke="#1a1a1a" stroke-width="0.1" transform="translate(0,-24.78) scale(1,1.05)">SR</text>
<text x="149.7" y="506.9" font-size="6.15" fill="#1a1a1a" stroke="#1a1a1a" stroke-width="0.1">SR</text>
<text x="167.2" y="506.9" font-size="6.15" fill="#1a1a1a" stroke="#1a1a1a" stroke-width="0.1">Median OS: 57 (95% CI, 15–NE)</text>
<text x="149.7" y="515.4" font-size="6.15" fill="#1a1a1a" stroke="#1a1a1a" stroke-width="0.1">HiR</text>
<text x="167.2" y="515.4" font-size="6.15" fill="#1a1a1a" stroke="#1a1a1a" stroke-width="0.1">Median OS: 53 (95% CI, 28–80)</text>
<text x="149.7" y="524" font-size="6.15" fill="#1a1a1a" stroke="#1a1a1a" stroke-width="0.1">UHiR</text>
<text x="167.2" y="524" font-size="6.15" fill="#1a1a1a" stroke="#1a1a1a" stroke-width="0.1">Median OS: 28 (95% CI, 17–48)</text>
<path d="M38.1,487.3 L44.7,487.3 L44.7,493.8 L59.6,493.8 L59.6,499.9 L63.5,499.9 L63.5,506.2 L66.5,506.2 L66.5,512.5 L69.9,512.5 L69.9,518.75 L124.5,518.75 L124.5,524.6 L125.8,524.6 L125.8,531.1 L134.7,531.1 L134.7,537.2 L149.6,537.2 L149.6,544.4 L153,544.4 L153,550.5 L171.5,550.5 L171.5,560.1 L218.5,560.1" fill="none" stroke="#1f5b99" stroke-width="1.35" stroke-linejoin="round" stroke-linejoin="miter"/>
<path d="M143.9,535.5 V538.9 M158.9,548.8 V552.2 M167.7,548.8 V552.2 M181.8,558.4 V561.8 M206.9,558.4 V561.8 M218.5,558.4 V561.8 " stroke="#1f5b99" stroke-width="1.0" fill="none"/>
<path d="M38.1,487.3 L77.1,487.3 L77.1,495.2 L95.1,495.2 L95.1,511.25 L101.2,511.25 L101.2,518.8 L103,518.8 L103,526.9 L106.1,526.9 L106.1,535.1 L109.6,535.1 L109.6,542.6 L143.9,542.6 L143.9,550.8 L164.3,550.8 L164.3,559.7 L168.2,559.7 L168.2,568.9 L196.2,568.9 L196.2,587.2 L216.6,587.2" fill="none" stroke="#d2143c" stroke-width="1.35" stroke-linejoin="round" stroke-linejoin="miter"/>
<path d="M146.5,549.1 V552.5 M170.8,567.2 V570.6 M188.5,567.2 V570.6 M216.6,585.5 V588.9 " stroke="#d2143c" stroke-width="1.0" fill="none"/>
<path d="M38.1,487.3 L74,487.3 L74,526.9 L94.6,526.9 L94.6,566.3" fill="none" stroke="#44bb44" stroke-width="1.35" stroke-linejoin="round" stroke-linejoin="miter"/>
<text x="30.25" y="648.3" font-size="5.6" text-anchor="end" fill="#1a1a1a" stroke="#1a1a1a" stroke-width="0.08">HiR</text>
<text transform="translate(40.95,648.3) scale(0.74,1)" font-size="5.6" text-anchor="middle" fill="#1a1a1a" stroke="#1a1a1a" stroke-width="0.25">15 (0)</text>
<text transform="translate(64.37,648.3) scale(0.74,1)" font-size="5.6" text-anchor="middle" fill="#1a1a1a" stroke="#1a1a1a" stroke-width="0.25">15 (0)</text>
<text transform="translate(87.79,648.3) scale(0.74,1)" font-size="5.6" text-anchor="middle" fill="#1a1a1a" stroke="#1a1a1a" stroke-width="0.25">14 (0)</text>
<text transform="translate(111.21,648.3) scale(0.74,1)" font-size="5.6" text-anchor="middle" fill="#1a1a1a" stroke="#1a1a1a" stroke-width="0.25">8 (0)</text>
<text transform="translate(134.63,648.3) scale(0.74,1)" font-size="5.6" text-anchor="middle" fill="#1a1a1a" stroke="#1a1a1a" stroke-width="0.25">8 (0)</text>
<text transform="translate(158.05,648.3) scale(0.74,1)" font-size="5.6" text-anchor="middle" fill="#1a1a1a" stroke="#1a1a1a" stroke-width="0.25">6 (1)</text>
<text transform="translate(181.47,648.3) scale(0.74,1)" font-size="5.6" text-anchor="middle" fill="#1a1a1a" stroke="#1a1a1a" stroke-width="0.25">3 (2)</text>
<text transform="translate(204.89,648.3) scale(0.74,1)" font-size="5.6" text-anchor="middle" fill="#1a1a1a" stroke="#1a1a1a" stroke-width="0.25">1 (3)</text>
<text transform="translate(228.31,648.3) scale(0.74,1)" font-size="5.6" text-anchor="middle" fill="#1a1a1a" stroke="#1a1a1a" stroke-width="0.25">0 (4)</text>
<text x="30.25" y="655.1" font-size="5.6" text-anchor="end" fill="#1a1a1a" stroke="#1a1a1a" stroke-width="0.08">SR</text>
<text transform="translate(40.95,655.1) scale(0.74,1)" font-size="5.6" text-anchor="middle" fill="#1a1a1a" stroke="#1a1a1a" stroke-width="0.25">19 (0)</text>
<text transform="translate(64.37,655.1) scale(0.74,1)" font-size="5.6" text-anchor="middle" fill="#1a1a1a" stroke="#1a1a1a" stroke-width="0.25">16 (0)</text>
<text transform="translate(87.79,655.1) scale(0.74,1)" font-size="5.6" text-anchor="middle" fill="#1a1a1a" stroke="#1a1a1a" stroke-width="0.25">14 (0)</text>
<text transform="translate(111.21,655.1) scale(0.74,1)" font-size="5.6" text-anchor="middle" fill="#1a1a1a" stroke="#1a1a1a" stroke-width="0.25">14 (0)</text>
<text transform="translate(134.63,655.1) scale(0.74,1)" font-size="5.6" text-anchor="middle" fill="#1a1a1a" stroke="#1a1a1a" stroke-width="0.25">11 (0)</text>
<text transform="translate(158.05,655.1) scale(0.74,1)" font-size="5.6" text-anchor="middle" fill="#1a1a1a" stroke="#1a1a1a" stroke-width="0.25">8 (1)</text>
<text transform="translate(181.47,655.1) scale(0.74,1)" font-size="5.6" text-anchor="middle" fill="#1a1a1a" stroke="#1a1a1a" stroke-width="0.25">5 (3)</text>
<text transform="translate(204.89,655.1) scale(0.74,1)" font-size="5.6" text-anchor="middle" fill="#1a1a1a" stroke="#1a1a1a" stroke-width="0.25">3 (5)</text>
<text transform="translate(228.31,655.1) scale(0.74,1)" font-size="5.6" text-anchor="middle" fill="#1a1a1a" stroke="#1a1a1a" stroke-width="0.25">0 (8)</text>
<text x="30.25" y="661.9" font-size="5.6" text-anchor="end" fill="#1a1a1a" stroke="#1a1a1a" stroke-width="0.08">UHiR</text>
<text transform="translate(40.95,661.9) scale(0.74,1)" font-size="5.6" text-anchor="middle" fill="#1a1a1a" stroke="#1a1a1a" stroke-width="0.25">3 (0)</text>
<text transform="translate(64.37,661.9) scale(0.74,1)" font-size="5.6" text-anchor="middle" fill="#1a1a1a" stroke="#1a1a1a" stroke-width="0.25">3 (0)</text>
<text transform="translate(87.79,661.9) scale(0.74,1)" font-size="5.6" text-anchor="middle" fill="#1a1a1a" stroke="#1a1a1a" stroke-width="0.25">2 (0)</text>
<path d="M293.55,483.6 V608.3 M292.95,607.7 H513.55" stroke="#333" stroke-width="1.25" fill="none"/>
<path d="M290.35,487.3 H293.55 M290.35,499.13 H293.55 M290.35,510.96 H293.55 M290.35,522.79 H293.55 M290.35,534.62 H293.55 M290.35,546.45 H293.55 M290.35,558.28 H293.55 M290.35,570.11 H293.55 M290.35,581.94 H293.55 M290.35,593.77 H293.55 M290.35,605.6 H293.55 M298.15,607.7 V610.6 M309.86,607.7 V610.6 M321.57,607.7 V610.6 M333.28,607.7 V610.6 M344.99,607.7 V610.6 M356.7,607.7 V610.6 M368.41,607.7 V610.6 M380.12,607.7 V610.6 M391.83,607.7 V610.6 M403.54,607.7 V610.6 M415.25,607.7 V610.6 M426.96,607.7 V610.6 M438.67,607.7 V610.6 M450.38,607.7 V610.6 M462.09,607.7 V610.6 M473.8,607.7 V610.6 M485.51,607.7 V610.6 M497.22,607.7 V610.6 M508.93,607.7 V610.6 " stroke="#333" stroke-width="1.1" fill="none"/>
<text x="287.35" y="489.7" font-size="7.6" text-anchor="end" fill="#1a1a1a" stroke="#1a1a1a" stroke-width="0.12">100</text>
<text x="287.35" y="501.53" font-size="7.6" text-anchor="end" fill="#1a1a1a" stroke="#1a1a1a" stroke-width="0.12">90</text>
<text x="287.35" y="513.36" font-size="7.6" text-anchor="end" fill="#1a1a1a" stroke="#1a1a1a" stroke-width="0.12">80</text>
<text x="287.35" y="525.19" font-size="7.6" text-anchor="end" fill="#1a1a1a" stroke="#1a1a1a" stroke-width="0.12">70</text>
<text x="287.35" y="537.02" font-size="7.6" text-anchor="end" fill="#1a1a1a" stroke="#1a1a1a" stroke-width="0.12">60</text>
<text x="287.35" y="548.85" font-size="7.6" text-anchor="end" fill="#1a1a1a" stroke="#1a1a1a" stroke-width="0.12">50</text>
<text x="287.35" y="560.68" font-size="7.6" text-anchor="end" fill="#1a1a1a" stroke="#1a1a1a" stroke-width="0.12">40</text>
<text x="287.35" y="572.51" font-size="7.6" text-anchor="end" fill="#1a1a1a" stroke="#1a1a1a" stroke-width="0.12">30</text>
<text x="287.35" y="584.34" font-size="7.6" text-anchor="end" fill="#1a1a1a" stroke="#1a1a1a" stroke-width="0.12">20</text>
<text x="287.35" y="596.17" font-size="7.6" text-anchor="end" fill="#1a1a1a" stroke="#1a1a1a" stroke-width="0.12">10</text>
<text x="287.35" y="608" font-size="7.6" text-anchor="end" fill="#1a1a1a" stroke="#1a1a1a" stroke-width="0.12">0</text>
<text x="298.15" y="619.7" font-size="7.6" text-anchor="middle" fill="#1a1a1a" stroke="#1a1a1a" stroke-width="0.12">0</text>
<text x="309.86" y="619.7" font-size="7.6" text-anchor="middle" fill="#1a1a1a" stroke="#1a1a1a" stroke-width="0.12">6</text>
<text x="321.57" y="619.7" font-size="7.6" text-anchor="middle" fill="#1a1a1a" stroke="#1a1a1a" stroke-width="0.12">12</text>
<text x="333.28" y="619.7" font-size="7.6" text-anchor="middle" fill="#1a1a1a" stroke="#1a1a1a" stroke-width="0.12">18</text>
<text x="344.99" y="619.7" font-size="7.6" text-anchor="middle" fill="#1a1a1a" stroke="#1a1a1a" stroke-width="0.12">24</text>
<text x="356.7" y="619.7" font-size="7.6" text-anchor="middle" fill="#1a1a1a" stroke="#1a1a1a" stroke-width="0.12">30</text>
<text x="368.41" y="619.7" font-size="7.6" text-anchor="middle" fill="#1a1a1a" stroke="#1a1a1a" stroke-width="0.12">36</text>
<text x="380.12" y="619.7" font-size="7.6" text-anchor="middle" fill="#1a1a1a" stroke="#1a1a1a" stroke-width="0.12">42</text>
<text x="391.83" y="619.7" font-size="7.6" text-anchor="middle" fill="#1a1a1a" stroke="#1a1a1a" stroke-width="0.12">48</text>
<text x="403.54" y="619.7" font-size="7.6" text-anchor="middle" fill="#1a1a1a" stroke="#1a1a1a" stroke-width="0.12">54</text>
<text x="415.25" y="619.7" font-size="7.6" text-anchor="middle" fill="#1a1a1a" stroke="#1a1a1a" stroke-width="0.12">60</text>
<text x="426.96" y="619.7" font-size="7.6" text-anchor="middle" fill="#1a1a1a" stroke="#1a1a1a" stroke-width="0.12">66</text>
<text x="438.67" y="619.7" font-size="7.6" text-anchor="middle" fill="#1a1a1a" stroke="#1a1a1a" stroke-width="0.12">72</text>
<text x="450.38" y="619.7" font-size="7.6" text-anchor="middle" fill="#1a1a1a" stroke="#1a1a1a" stroke-width="0.12">78</text>
<text x="462.09" y="619.7" font-size="7.6" text-anchor="middle" fill="#1a1a1a" stroke="#1a1a1a" stroke-width="0.12">84</text>
<text x="473.8" y="619.7" font-size="7.6" text-anchor="middle" fill="#1a1a1a" stroke="#1a1a1a" stroke-width="0.12">90</text>
<text x="484.66" y="619.7" font-size="7.6" text-anchor="middle" fill="#1a1a1a" stroke="#1a1a1a" stroke-width="0.12">96</text>
<text x="495.37" y="619.7" font-size="7.6" text-anchor="middle" fill="#1a1a1a" stroke="#1a1a1a" stroke-width="0.12">102</text>
<text x="508.03" y="619.7" font-size="7.6" text-anchor="middle" fill="#1a1a1a" stroke="#1a1a1a" stroke-width="0.12">108</text>
<text x="264.1" y="462.3" font-size="11.2" font-weight="bold" fill="#000" stroke="#000" stroke-width="0.2">F</text>
<text transform="translate(403.25,472.9) scale(1,1.1)" font-size="9" text-anchor="middle" fill="#1a1a1a" stroke="#1a1a1a" stroke-width="0.2">PFS IgD by cytogenetic groups</text>
<text transform="translate(272.45,545.95) rotate(-90)" x="0" y="0" font-size="8.6" text-anchor="middle" textLength="81.5" lengthAdjust="spacingAndGlyphs" fill="#1a1a1a" stroke="#1a1a1a" stroke-width="0.3">Progression-free survival (%)</text>
<text x="364.1" y="629.6" font-size="8.4" font-weight="bold" textLength="78.3" lengthAdjust="spacingAndGlyphs" fill="#1a1a1a" stroke="#1a1a1a" stroke-width="0.22">Months since randomisation</text>
<text x="293.45" y="639.9" font-size="5.9" textLength="89.5" lengthAdjust="spacingAndGlyphs" fill="#1a1a1a" stroke="#1a1a1a" stroke-width="0.08">Number at risk (number censored)</text>
<path d="M446.25,482.8 H455.55" stroke="#d2143c" stroke-width="1.9"/>
<text x="458.45" y="485.4" font-size="7.1" fill="#1a1a1a" stroke="#1a1a1a" stroke-width="0.1" transform="translate(0,-24.27) scale(1,1.05)">HiR</text>
<path d="M479.5,482.8 H488.8" stroke="#44bb44" stroke-width="1.9"/>
<text x="491.7" y="485.4" font-size="7.1" fill="#1a1a1a" stroke="#1a1a1a" stroke-width="0.1" transform="translate(0,-24.27) scale(1,1.05)">UHiR</text>
<path d="M446.25,492.9 H455.55" stroke="#1f5b99" stroke-width="1.9"/>
<text x="458.45" y="495.5" font-size="7.1" fill="#1a1a1a" stroke="#1a1a1a" stroke-width="0.1" transform="translate(0,-24.78) scale(1,1.05)">SR</text>
<text x="405.5" y="506.9" font-size="6.15" fill="#1a1a1a" stroke="#1a1a1a" stroke-width="0.1">SR</text>
<text x="423.25" y="506.9" font-size="6.15" fill="#1a1a1a" stroke="#1a1a1a" stroke-width="0.1">Median PFS: 22 (95% CI, 8–30)</text>
<text x="405.5" y="515.4" font-size="6.15" fill="#1a1a1a" stroke="#1a1a1a" stroke-width="0.1">HiR</text>
<text x="423.25" y="515.4" font-size="6.15" fill="#1a1a1a" stroke="#1a1a1a" stroke-width="0.1">Median PFS: 24 (95% CI, 12–37)</text>
<text x="405.5" y="524" font-size="6.15" fill="#1a1a1a" stroke="#1a1a1a" stroke-width="0.1">UHiR</text>
<text x="423.25" y="524" font-size="6.15" fill="#1a1a1a" stroke="#1a1a1a" stroke-width="0.1">Median PFS: 16 (95% CI, 10–26)</text>
<path d="M299,487.2 L302.3,487.2 L302.3,493.5 L305.2,493.5 L305.2,500.2 L311.6,500.2 L311.6,506.2 L312.2,506.2 L312.2,512.3 L314.8,512.3 L314.8,518.5 L315.3,518.5 L315.3,525 L316.5,525 L316.5,531 L317,531 L317,537.1 L324.6,537.1 L324.6,543.5 L341.5,543.5 L341.5,550 L343.1,550 L343.1,556.2 L346.2,556.2 L346.2,562.3 L347.7,562.3 L347.7,568.2 L358,568.2 L358,580.5 L401.2,580.5 L401.2,586.9 L429.3,586.9 L429.3,605.1" fill="none" stroke="#1f5b99" stroke-width="1.35" stroke-linejoin="round" stroke-linejoin="miter"/>
<path d="M416.6,585.2 V588.6 M424.8,585.2 V588.6 " stroke="#1f5b99" stroke-width="1.0" fill="none"/>
<path d="M299,487.2 L319.8,487.2 L319.8,495 L321.2,495 L321.2,503.7 L322.1,503.7 L322.1,510.9 L323.5,510.9 L323.5,518.7 L336.4,518.7 L336.4,526.7 L340.2,526.7 L340.2,534.5 L344.2,534.5 L344.2,542.3 L344.8,542.3 L344.8,550 L349.7,550 L349.7,558.5 L360.8,558.5 L360.8,566.5 L371.2,566.5 L371.2,574.4 L422.3,574.4 L422.3,584.8 L475.2,584.8" fill="none" stroke="#d2143c" stroke-width="1.35" stroke-linejoin="round" stroke-linejoin="miter"/>
<path d="M404.3,572.7 V576.1 M446.6,583.1 V586.5 M475.2,583.1 V586.5 " stroke="#d2143c" stroke-width="1.0" fill="none"/>
<path d="M299,487.2 L318,487.2 L318,526.7 L330.8,526.7 L330.8,566.5 L349.2,566.5 L349.2,605.4" fill="none" stroke="#44bb44" stroke-width="1.35" stroke-linejoin="round" stroke-linejoin="miter"/>
<text x="287.45" y="648.3" font-size="5.6" text-anchor="end" fill="#1a1a1a" stroke="#1a1a1a" stroke-width="0.08">HiR</text>
<text transform="translate(298.15,648.3) scale(0.74,1)" font-size="5.6" text-anchor="middle" fill="#1a1a1a" stroke="#1a1a1a" stroke-width="0.25">15 (0)</text>
<text transform="translate(321.57,648.3) scale(0.74,1)" font-size="5.6" text-anchor="middle" fill="#1a1a1a" stroke="#1a1a1a" stroke-width="0.25">13 (0)</text>
<text transform="translate(344.99,648.3) scale(0.74,1)" font-size="5.6" text-anchor="middle" fill="#1a1a1a" stroke="#1a1a1a" stroke-width="0.25">7 (0)</text>
<text transform="translate(368.41,648.3) scale(0.74,1)" font-size="5.6" text-anchor="middle" fill="#1a1a1a" stroke="#1a1a1a" stroke-width="0.25">5 (0)</text>
<text transform="translate(391.83,648.3) scale(0.74,1)" font-size="5.6" text-anchor="middle" fill="#1a1a1a" stroke="#1a1a1a" stroke-width="0.25">4 (0)</text>
<text transform="translate(415.25,648.3) scale(0.74,1)" font-size="5.6" text-anchor="middle" fill="#1a1a1a" stroke="#1a1a1a" stroke-width="0.25">3 (1)</text>
<text transform="translate(438.67,648.3) scale(0.74,1)" font-size="5.6" text-anchor="middle" fill="#1a1a1a" stroke="#1a1a1a" stroke-width="0.25">2 (1)</text>
<text transform="translate(462.09,646.5) scale(0.74,1)" font-size="5.6" text-anchor="middle" fill="#1a1a1a" stroke="#1a1a1a" stroke-width="0.25">1 (2)</text>
<text transform="translate(485.51,646.5) scale(0.74,1)" font-size="5.6" text-anchor="middle" fill="#1a1a1a" stroke="#1a1a1a" stroke-width="0.25">0 (3)</text>
<text x="287.45" y="655.1" font-size="5.6" text-anchor="end" fill="#1a1a1a" stroke="#1a1a1a" stroke-width="0.08">SR</text>
<text transform="translate(298.15,655.1) scale(0.74,1)" font-size="5.6" text-anchor="middle" fill="#1a1a1a" stroke="#1a1a1a" stroke-width="0.25">19 (0)</text>
<text transform="translate(321.57,655.1) scale(0.74,1)" font-size="5.6" text-anchor="middle" fill="#1a1a1a" stroke="#1a1a1a" stroke-width="0.25">11 (0)</text>
<text transform="translate(344.99,655.1) scale(0.74,1)" font-size="5.6" text-anchor="middle" fill="#1a1a1a" stroke="#1a1a1a" stroke-width="0.25">8 (0)</text>
<text transform="translate(368.41,655.1) scale(0.74,1)" font-size="5.6" text-anchor="middle" fill="#1a1a1a" stroke="#1a1a1a" stroke-width="0.25">4 (0)</text>
<text transform="translate(391.83,655.1) scale(0.74,1)" font-size="5.6" text-anchor="middle" fill="#1a1a1a" stroke="#1a1a1a" stroke-width="0.25">4 (0)</text>
<text transform="translate(415.25,655.1) scale(0.74,1)" font-size="5.6" text-anchor="middle" fill="#1a1a1a" stroke="#1a1a1a" stroke-width="0.25">3 (0)</text>
<text transform="translate(438.67,655.1) scale(0.74,1)" font-size="5.6" text-anchor="middle" fill="#1a1a1a" stroke="#1a1a1a" stroke-width="0.25">0 (2)</text>
<text x="287.45" y="661.9" font-size="5.6" text-anchor="end" fill="#1a1a1a" stroke="#1a1a1a" stroke-width="0.08">UHiR</text>
<text transform="translate(298.15,661.9) scale(0.74,1)" font-size="5.6" text-anchor="middle" fill="#1a1a1a" stroke="#1a1a1a" stroke-width="0.25">3 (0)</text>
<text transform="translate(321.57,661.9) scale(0.74,1)" font-size="5.6" text-anchor="middle" fill="#1a1a1a" stroke="#1a1a1a" stroke-width="0.25">2 (0)</text>
<text transform="translate(344.99,661.9) scale(0.74,1)" font-size="5.6" text-anchor="middle" fill="#1a1a1a" stroke="#1a1a1a" stroke-width="0.25">1 (0)</text>
<text transform="translate(368.41,661.9) scale(0.74,1)" font-size="5.6" text-anchor="middle" fill="#1a1a1a" stroke="#1a1a1a" stroke-width="0.25">0 (0)</text>
</svg><div class="bd"></div></body></html>
